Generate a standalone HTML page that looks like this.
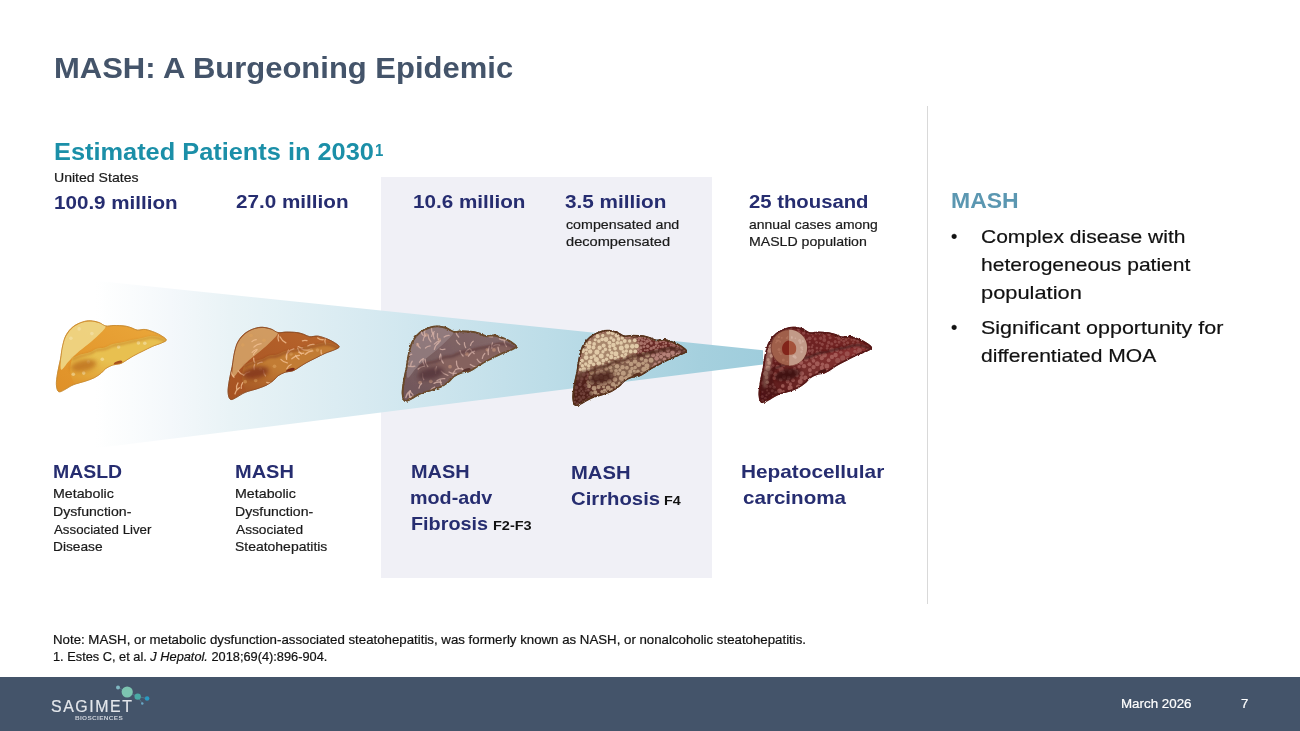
<!DOCTYPE html>
<html><head><meta charset="utf-8">
<style>
html,body{margin:0;padding:0;}
body{width:1300px;height:731px;overflow:hidden;background:#fff;position:relative;font-family:"Liberation Sans",sans-serif;}
.t{position:absolute;white-space:nowrap;transform-origin:0 0;line-height:1;}
.r{-webkit-text-stroke:0.2px currentColor;}
#box{position:absolute;left:381px;top:176.8px;width:330.5px;height:401.5px;background:#f0f0f6;}
#vline{position:absolute;left:926.5px;top:105.6px;width:1.5px;height:498.5px;background:#d9d9d9;}
#footer{position:absolute;left:0;top:677px;width:1300px;height:54px;background:#44546a;}
.dot{position:absolute;width:5px;height:5px;border-radius:50%;background:#111;}
</style></head><body>
<div id="box"></div>
<div id="vline"></div>
<div id="footer"></div>
<svg id="art" style="position:absolute;left:0;top:0" width="1300" height="731" viewBox="0 0 1300 731">
<defs>
<linearGradient id="beam" gradientUnits="userSpaceOnUse" x1="91" x2="763" y1="0" y2="0">
<stop offset="0" stop-color="#ffffff" stop-opacity="0"/>
<stop offset="0.025" stop-color="#fdfefe"/>
<stop offset="0.06" stop-color="#fafcfd"/>
<stop offset="0.1175" stop-color="#f4f8fb"/>
<stop offset="0.207" stop-color="#e9f3f6"/>
<stop offset="0.408" stop-color="#d7eaf1"/>
<stop offset="0.676" stop-color="#bddde8"/>
<stop offset="0.906" stop-color="#a5d0de"/>
<stop offset="1" stop-color="#9fcddc"/>
</linearGradient>
</defs>
<polygon points="91,280.3 763,350.3 763,364.6 91,448.8" fill="url(#beam)"/>
<filter id="b0" x="-20%" y="-20%" width="140%" height="140%"><feGaussianBlur stdDeviation="0.6"/></filter>
<filter id="b1" x="-20%" y="-20%" width="140%" height="140%"><feGaussianBlur stdDeviation="1.2"/></filter>
<filter id="b2" x="-30%" y="-30%" width="160%" height="160%"><feGaussianBlur stdDeviation="2"/></filter>
<filter id="rough" x="-5%" y="-5%" width="110%" height="110%"><feTurbulence type="fractalNoise" baseFrequency="0.35" numOctaves="2" seed="3" result="n"/><feDisplacementMap in="SourceGraphic" in2="n" scale="2.4" xChannelSelector="R" yChannelSelector="G"/></filter>
<g transform="translate(56.4,320.8) scale(1.0001,0.9996)">
<clipPath id="lc1"><path d="M2.3,70.9C0.9,70.2 0.2,67.1 0.0,64.0C-0.2,60.9 0.5,56.6 1.2,52.3C1.8,48.1 3.2,43.0 4.1,38.4C4.9,33.7 5.4,28.5 6.4,24.4C7.4,20.3 8.1,17.1 9.9,14.0C11.6,10.9 14.1,7.9 16.9,5.8C19.6,3.7 23.3,2.1 26.2,1.2C29.1,0.2 31.6,-0.1 34.3,0.0C37.0,0.1 39.9,0.9 42.4,1.7C45.0,2.6 46.9,4.7 49.4,5.2C51.9,5.7 54.5,4.7 57.6,4.7C60.7,4.7 65.1,4.8 68.0,5.2C70.9,5.6 72.9,6.3 75.0,7.0C77.1,7.7 78.5,9.0 80.8,9.3C83.1,9.6 86.0,8.3 89.0,8.7C91.9,9.1 95.5,10.6 98.3,11.6C101.0,12.7 103.3,13.9 105.2,15.1C107.2,16.4 109.9,18.0 109.9,19.2C109.9,20.3 107.6,21.0 105.2,22.1C102.9,23.2 99.0,24.2 95.9,25.6C92.8,26.9 89.7,28.7 86.6,30.2C83.5,31.8 80.4,33.1 77.3,34.9C74.2,36.6 70.3,39.3 68.0,40.7C65.7,42.1 65.3,42.4 63.4,43.0C61.4,43.6 58.7,43.4 56.4,44.2C54.1,45.0 51.4,46.3 49.4,47.7C47.5,49.0 46.7,50.8 44.8,52.3C42.8,53.9 40.5,55.6 37.8,57.0C35.1,58.3 32.0,59.3 28.5,60.5C25.0,61.6 20.2,62.6 16.9,64.0C13.6,65.3 11.1,67.4 8.7,68.6C6.3,69.8 3.8,71.7 2.3,70.9Z"/></clipPath>
<linearGradient id="lg1" x1="0" y1="1" x2="1" y2="0"><stop offset="0" stop-color="#df9028"/><stop offset="1" stop-color="#eba83a"/></linearGradient>
<linearGradient id="lw1" x1="0.15" y1="1" x2="0.75" y2="0"><stop offset="0" stop-color="#e09a30"/><stop offset="0.45" stop-color="#e8c050"/><stop offset="1" stop-color="#e8c050"/></linearGradient>
<path d="M2.3,70.9C0.9,70.2 0.2,67.1 0.0,64.0C-0.2,60.9 0.5,56.6 1.2,52.3C1.8,48.1 3.2,43.0 4.1,38.4C4.9,33.7 5.4,28.5 6.4,24.4C7.4,20.3 8.1,17.1 9.9,14.0C11.6,10.9 14.1,7.9 16.9,5.8C19.6,3.7 23.3,2.1 26.2,1.2C29.1,0.2 31.6,-0.1 34.3,0.0C37.0,0.1 39.9,0.9 42.4,1.7C45.0,2.6 46.9,4.7 49.4,5.2C51.9,5.7 54.5,4.7 57.6,4.7C60.7,4.7 65.1,4.8 68.0,5.2C70.9,5.6 72.9,6.3 75.0,7.0C77.1,7.7 78.5,9.0 80.8,9.3C83.1,9.6 86.0,8.3 89.0,8.7C91.9,9.1 95.5,10.6 98.3,11.6C101.0,12.7 103.3,13.9 105.2,15.1C107.2,16.4 109.9,18.0 109.9,19.2C109.9,20.3 107.6,21.0 105.2,22.1C102.9,23.2 99.0,24.2 95.9,25.6C92.8,26.9 89.7,28.7 86.6,30.2C83.5,31.8 80.4,33.1 77.3,34.9C74.2,36.6 70.3,39.3 68.0,40.7C65.7,42.1 65.3,42.4 63.4,43.0C61.4,43.6 58.7,43.4 56.4,44.2C54.1,45.0 51.4,46.3 49.4,47.7C47.5,49.0 46.7,50.8 44.8,52.3C42.8,53.9 40.5,55.6 37.8,57.0C35.1,58.3 32.0,59.3 28.5,60.5C25.0,61.6 20.2,62.6 16.9,64.0C13.6,65.3 11.1,67.4 8.7,68.6C6.3,69.8 3.8,71.7 2.3,70.9Z" fill="url(#lg1)" stroke="#c98a2e" stroke-width="0.8" stroke-linejoin="round"/>
<g clip-path="url(#lc1)">
<path d="M15.7,37.2C17.1,36.6 20.9,34.7 23.8,33.7C26.7,32.8 30.4,32.4 33.1,31.4C35.9,30.4 37.6,28.7 40.1,27.9C42.6,27.1 45.5,27.5 48.3,26.7C51.0,26.0 53.5,24.1 56.4,23.3C59.3,22.4 62.6,22.2 65.7,21.5C68.8,20.8 71.9,19.9 75.0,19.2C78.1,18.5 81.2,18.1 84.3,17.4C87.4,16.8 90.7,15.4 93.6,15.1C96.5,14.8 99.0,15.0 101.7,15.7C104.5,16.4 108.5,18.6 109.9,19.2L105.2,22.1C103.7,22.7 99.0,24.2 95.9,25.6C92.8,26.9 89.7,28.7 86.6,30.2C83.5,31.8 80.4,33.1 77.3,34.9C74.2,36.6 70.3,39.3 68.0,40.7C65.7,42.1 65.3,42.4 63.4,43.0C61.4,43.6 58.7,43.4 56.4,44.2C54.1,45.0 51.4,46.3 49.4,47.7C47.5,49.0 46.7,50.8 44.8,52.3C42.8,53.9 40.5,55.6 37.8,57.0C35.1,58.3 31.6,59.5 28.5,60.5C25.4,61.4 21.5,63.8 19.2,62.8C16.9,61.8 15.4,57.6 14.5,54.7C13.7,51.7 14.1,46.9 14.0,45.3Z" fill="url(#lw1)"/>
<path d="M4.7,48.8C3.5,47.5 4.7,37.5 5.2,32.6C5.8,27.6 7.0,22.7 8.1,19.2C9.3,15.7 10.6,13.9 12.2,11.6C13.9,9.4 15.7,7.5 18.0,5.8C20.3,4.2 23.4,2.6 26.2,1.7C28.9,0.9 31.6,0.5 34.3,0.6C37.0,0.6 40.0,1.3 42.4,2.1C44.9,2.9 49.2,3.6 49.2,5.6C49.2,7.6 45.3,11.0 42.4,14.0C39.6,16.9 35.7,20.2 32.0,23.3C28.3,26.4 23.6,29.7 20.3,32.6C17.1,35.5 14.8,38.0 12.2,40.7C9.6,43.4 5.8,50.2 4.7,48.8Z" fill="#efd888" opacity="0.9" filter="url(#b0)"/>
<circle cx="62.2" cy="26.2" r="1.8" fill="#f5e2ae" opacity="0.6"/>
<circle cx="82.0" cy="22.1" r="1.8" fill="#f5e2ae" opacity="0.6"/>
<circle cx="45.9" cy="38.4" r="1.8" fill="#f5e2ae" opacity="0.6"/>
<circle cx="32.0" cy="41.3" r="1.8" fill="#f5e2ae" opacity="0.6"/>
<circle cx="16.9" cy="53.5" r="1.8" fill="#f5e2ae" opacity="0.6"/>
<circle cx="27.3" cy="52.3" r="1.8" fill="#f5e2ae" opacity="0.6"/>
<circle cx="88.4" cy="22.4" r="1.8" fill="#f5e2ae" opacity="0.6"/>
<circle cx="22.7" cy="8.1" r="1.8" fill="#f5e2ae" opacity="0.6"/>
<circle cx="14.5" cy="17.4" r="1.8" fill="#f5e2ae" opacity="0.6"/>
<circle cx="35.5" cy="12.8" r="1.8" fill="#f5e2ae" opacity="0.6"/>
<ellipse cx="27.3" cy="44.8" rx="13" ry="5.5" fill="#bf7420" opacity="0.85" filter="url(#b2)" transform="rotate(-12 27.3 44.8)"/>
<path d="M15.7,37.2C17.1,36.6 20.9,34.7 23.8,33.7C26.7,32.8 30.4,32.4 33.1,31.4C35.9,30.4 37.6,28.7 40.1,27.9C42.6,27.1 45.5,27.5 48.3,26.7C51.0,26.0 53.5,24.1 56.4,23.3C59.3,22.4 62.6,22.2 65.7,21.5C68.8,20.8 71.9,19.9 75.0,19.2C78.1,18.5 81.2,18.1 84.3,17.4C87.4,16.8 90.7,15.4 93.6,15.1C96.5,14.8 99.0,15.0 101.7,15.7C104.5,16.4 108.5,18.6 109.9,19.2" fill="none" stroke="#bf7420" stroke-width="2.2" opacity="0.55" filter="url(#b1)" transform="translate(0,1.6)"/>
<ellipse cx="61.6" cy="42.1" rx="4.5" ry="1.8" fill="#a8501c" transform="rotate(-20 61.6 42.1)"/>
</g>
<path d="M2.3,70.9C0.9,70.2 0.2,67.1 0.0,64.0C-0.2,60.9 0.5,56.6 1.2,52.3C1.8,48.1 3.2,43.0 4.1,38.4C4.9,33.7 5.4,28.5 6.4,24.4C7.4,20.3 8.1,17.1 9.9,14.0C11.6,10.9 14.1,7.9 16.9,5.8C19.6,3.7 23.3,2.1 26.2,1.2C29.1,0.2 31.6,-0.1 34.3,0.0C37.0,0.1 39.9,0.9 42.4,1.7C45.0,2.6 46.9,4.7 49.4,5.2C51.9,5.7 54.5,4.7 57.6,4.7C60.7,4.7 65.1,4.8 68.0,5.2C70.9,5.6 72.9,6.3 75.0,7.0C77.1,7.7 78.5,9.0 80.8,9.3C83.1,9.6 86.0,8.3 89.0,8.7C91.9,9.1 95.5,10.6 98.3,11.6C101.0,12.7 103.3,13.9 105.2,15.1C107.2,16.4 109.9,18.0 109.9,19.2C109.9,20.3 107.6,21.0 105.2,22.1C102.9,23.2 99.0,24.2 95.9,25.6C92.8,26.9 89.7,28.7 86.6,30.2C83.5,31.8 80.4,33.1 77.3,34.9C74.2,36.6 70.3,39.3 68.0,40.7C65.7,42.1 65.3,42.4 63.4,43.0C61.4,43.6 58.7,43.4 56.4,44.2C54.1,45.0 51.4,46.3 49.4,47.7C47.5,49.0 46.7,50.8 44.8,52.3C42.8,53.9 40.5,55.6 37.8,57.0C35.1,58.3 32.0,59.3 28.5,60.5C25.0,61.6 20.2,62.6 16.9,64.0C13.6,65.3 11.1,67.4 8.7,68.6C6.3,69.8 3.8,71.7 2.3,70.9Z" fill="none" stroke="#c98a2e" stroke-width="0.6400000000000001" stroke-linejoin="round" opacity="0.9"/>
</g>
<g transform="translate(228.1,327.3) scale(1.0111,1.0165)">
<clipPath id="lc2"><path d="M2.3,70.9C0.9,70.2 0.2,67.1 0.0,64.0C-0.2,60.9 0.5,56.6 1.2,52.3C1.8,48.1 3.2,43.0 4.1,38.4C4.9,33.7 5.4,28.5 6.4,24.4C7.4,20.3 8.1,17.1 9.9,14.0C11.6,10.9 14.1,7.9 16.9,5.8C19.6,3.7 23.3,2.1 26.2,1.2C29.1,0.2 31.6,-0.1 34.3,0.0C37.0,0.1 39.9,0.9 42.4,1.7C45.0,2.6 46.9,4.7 49.4,5.2C51.9,5.7 54.5,4.7 57.6,4.7C60.7,4.7 65.1,4.8 68.0,5.2C70.9,5.6 72.9,6.3 75.0,7.0C77.1,7.7 78.5,9.0 80.8,9.3C83.1,9.6 86.0,8.3 89.0,8.7C91.9,9.1 95.5,10.6 98.3,11.6C101.0,12.7 103.3,13.9 105.2,15.1C107.2,16.4 109.9,18.0 109.9,19.2C109.9,20.3 107.6,21.0 105.2,22.1C102.9,23.2 99.0,24.2 95.9,25.6C92.8,26.9 89.7,28.7 86.6,30.2C83.5,31.8 80.4,33.1 77.3,34.9C74.2,36.6 70.3,39.3 68.0,40.7C65.7,42.1 65.3,42.4 63.4,43.0C61.4,43.6 58.7,43.4 56.4,44.2C54.1,45.0 51.4,46.3 49.4,47.7C47.5,49.0 46.7,50.8 44.8,52.3C42.8,53.9 40.5,55.6 37.8,57.0C35.1,58.3 32.0,59.3 28.5,60.5C25.0,61.6 20.2,62.6 16.9,64.0C13.6,65.3 11.1,67.4 8.7,68.6C6.3,69.8 3.8,71.7 2.3,70.9Z"/></clipPath>
<linearGradient id="lg2" x1="0" y1="1" x2="1" y2="0"><stop offset="0" stop-color="#a65222"/><stop offset="1" stop-color="#b9662c"/></linearGradient>
<linearGradient id="lw2" x1="0.15" y1="1" x2="0.75" y2="0"><stop offset="0" stop-color="#a85a26"/><stop offset="0.45" stop-color="#c27c34"/><stop offset="1" stop-color="#c27c34"/></linearGradient>
<path d="M2.3,70.9C0.9,70.2 0.2,67.1 0.0,64.0C-0.2,60.9 0.5,56.6 1.2,52.3C1.8,48.1 3.2,43.0 4.1,38.4C4.9,33.7 5.4,28.5 6.4,24.4C7.4,20.3 8.1,17.1 9.9,14.0C11.6,10.9 14.1,7.9 16.9,5.8C19.6,3.7 23.3,2.1 26.2,1.2C29.1,0.2 31.6,-0.1 34.3,0.0C37.0,0.1 39.9,0.9 42.4,1.7C45.0,2.6 46.9,4.7 49.4,5.2C51.9,5.7 54.5,4.7 57.6,4.7C60.7,4.7 65.1,4.8 68.0,5.2C70.9,5.6 72.9,6.3 75.0,7.0C77.1,7.7 78.5,9.0 80.8,9.3C83.1,9.6 86.0,8.3 89.0,8.7C91.9,9.1 95.5,10.6 98.3,11.6C101.0,12.7 103.3,13.9 105.2,15.1C107.2,16.4 109.9,18.0 109.9,19.2C109.9,20.3 107.6,21.0 105.2,22.1C102.9,23.2 99.0,24.2 95.9,25.6C92.8,26.9 89.7,28.7 86.6,30.2C83.5,31.8 80.4,33.1 77.3,34.9C74.2,36.6 70.3,39.3 68.0,40.7C65.7,42.1 65.3,42.4 63.4,43.0C61.4,43.6 58.7,43.4 56.4,44.2C54.1,45.0 51.4,46.3 49.4,47.7C47.5,49.0 46.7,50.8 44.8,52.3C42.8,53.9 40.5,55.6 37.8,57.0C35.1,58.3 32.0,59.3 28.5,60.5C25.0,61.6 20.2,62.6 16.9,64.0C13.6,65.3 11.1,67.4 8.7,68.6C6.3,69.8 3.8,71.7 2.3,70.9Z" fill="url(#lg2)" stroke="#8c4a20" stroke-width="0.8" stroke-linejoin="round"/>
<g clip-path="url(#lc2)">
<path d="M15.7,37.2C17.1,36.6 20.9,34.7 23.8,33.7C26.7,32.8 30.4,32.4 33.1,31.4C35.9,30.4 37.6,28.7 40.1,27.9C42.6,27.1 45.5,27.5 48.3,26.7C51.0,26.0 53.5,24.1 56.4,23.3C59.3,22.4 62.6,22.2 65.7,21.5C68.8,20.8 71.9,19.9 75.0,19.2C78.1,18.5 81.2,18.1 84.3,17.4C87.4,16.8 90.7,15.4 93.6,15.1C96.5,14.8 99.0,15.0 101.7,15.7C104.5,16.4 108.5,18.6 109.9,19.2L105.2,22.1C103.7,22.7 99.0,24.2 95.9,25.6C92.8,26.9 89.7,28.7 86.6,30.2C83.5,31.8 80.4,33.1 77.3,34.9C74.2,36.6 70.3,39.3 68.0,40.7C65.7,42.1 65.3,42.4 63.4,43.0C61.4,43.6 58.7,43.4 56.4,44.2C54.1,45.0 51.4,46.3 49.4,47.7C47.5,49.0 46.7,50.8 44.8,52.3C42.8,53.9 40.5,55.6 37.8,57.0C35.1,58.3 31.6,59.5 28.5,60.5C25.4,61.4 21.5,63.8 19.2,62.8C16.9,61.8 15.4,57.6 14.5,54.7C13.7,51.7 14.1,46.9 14.0,45.3Z" fill="url(#lw2)"/>
<path d="M4.7,48.8C3.5,47.5 4.7,37.5 5.2,32.6C5.8,27.6 7.0,22.7 8.1,19.2C9.3,15.7 10.6,13.9 12.2,11.6C13.9,9.4 15.7,7.5 18.0,5.8C20.3,4.2 23.4,2.6 26.2,1.7C28.9,0.9 31.6,0.5 34.3,0.6C37.0,0.6 40.0,1.3 42.4,2.1C44.9,2.9 49.2,3.6 49.2,5.6C49.2,7.6 45.3,11.0 42.4,14.0C39.6,16.9 35.7,20.2 32.0,23.3C28.3,26.4 23.6,29.7 20.3,32.6C17.1,35.5 14.8,38.0 12.2,40.7C9.6,43.4 5.8,50.2 4.7,48.8Z" fill="#d9aa70" opacity="0.8" filter="url(#b0)"/>
<circle cx="62.2" cy="26.2" r="1.8" fill="#dca25e" opacity="0.6"/>
<circle cx="82.0" cy="22.1" r="1.8" fill="#dca25e" opacity="0.6"/>
<circle cx="45.9" cy="38.4" r="1.8" fill="#dca25e" opacity="0.6"/>
<circle cx="32.0" cy="41.3" r="1.8" fill="#dca25e" opacity="0.6"/>
<circle cx="16.9" cy="53.5" r="1.8" fill="#dca25e" opacity="0.6"/>
<circle cx="27.3" cy="52.3" r="1.8" fill="#dca25e" opacity="0.6"/>
<circle cx="88.4" cy="22.4" r="1.8" fill="#dca25e" opacity="0.6"/>
<circle cx="22.7" cy="8.1" r="1.8" fill="#dca25e" opacity="0.6"/>
<circle cx="14.5" cy="17.4" r="1.8" fill="#dca25e" opacity="0.6"/>
<circle cx="35.5" cy="12.8" r="1.8" fill="#dca25e" opacity="0.6"/>
<path d="M78.0,13.2Q75.7,12.4 73.5,13.4" stroke="#f3c094" stroke-width="1.25" fill="none" stroke-linecap="round" opacity="0.8"/>
<path d="M28.4,22.8Q25.8,24.3 25.0,27.1" stroke="#f3c094" stroke-width="1.25" fill="none" stroke-linecap="round" opacity="0.8"/>
<path d="M32.6,16.1Q28.4,16.4 25.5,19.5" stroke="#f3c094" stroke-width="1.25" fill="none" stroke-linecap="round" opacity="0.8"/>
<path d="M85.0,16.8Q81.6,16.3 78.7,18.3" stroke="#f3c094" stroke-width="1.25" fill="none" stroke-linecap="round" opacity="0.8"/>
<path d="M25.3,30.3Q25.0,32.8 26.5,34.9" stroke="#f3c094" stroke-width="1.25" fill="none" stroke-linecap="round" opacity="0.8"/>
<path d="M59.7,22.4Q57.3,26.0 58.0,30.3" stroke="#f3c094" stroke-width="1.25" fill="none" stroke-linecap="round" opacity="0.8"/>
<path d="M70.6,27.6Q66.1,27.8 63.0,31.0" stroke="#f3c094" stroke-width="1.25" fill="none" stroke-linecap="round" opacity="0.8"/>
<path d="M33.6,34.3Q31.0,34.2 29.1,36.0" stroke="#f3c094" stroke-width="1.25" fill="none" stroke-linecap="round" opacity="0.8"/>
<path d="M57.9,26.5Q56.9,29.1 57.9,31.6" stroke="#f3c094" stroke-width="1.25" fill="none" stroke-linecap="round" opacity="0.8"/>
<path d="M28.7,21.7Q25.7,22.2 23.8,24.7" stroke="#f3c094" stroke-width="1.25" fill="none" stroke-linecap="round" opacity="0.8"/>
<path d="M92.0,22.5Q91.5,25.0 92.9,27.1" stroke="#f3c094" stroke-width="1.25" fill="none" stroke-linecap="round" opacity="0.8"/>
<path d="M49.8,7.5Q48.7,10.5 50.0,13.4" stroke="#f3c094" stroke-width="1.25" fill="none" stroke-linecap="round" opacity="0.8"/>
<path d="M72.3,21.1Q76.1,23.2 80.2,22.2" stroke="#f3c094" stroke-width="1.25" fill="none" stroke-linecap="round" opacity="0.8"/>
<path d="M96.4,10.1Q95.1,13.3 96.4,16.4" stroke="#f3c094" stroke-width="1.25" fill="none" stroke-linecap="round" opacity="0.8"/>
<path d="M9.8,54.7Q7.9,57.5 8.4,60.8" stroke="#f3c094" stroke-width="1.25" fill="none" stroke-linecap="round" opacity="0.8"/>
<path d="M69.3,19.0Q71.2,20.5 73.6,20.2" stroke="#f3c094" stroke-width="1.25" fill="none" stroke-linecap="round" opacity="0.8"/>
<path d="M34.9,42.4Q34.9,45.5 37.0,47.8" stroke="#f3c094" stroke-width="1.25" fill="none" stroke-linecap="round" opacity="0.8"/>
<path d="M65.1,21.2Q61.1,22.0 58.7,25.3" stroke="#f3c094" stroke-width="1.25" fill="none" stroke-linecap="round" opacity="0.8"/>
<path d="M3.1,43.8Q3.4,47.0 5.9,49.1" stroke="#f3c094" stroke-width="1.25" fill="none" stroke-linecap="round" opacity="0.8"/>
<path d="M51.3,9.4Q53.1,13.5 57.2,15.3" stroke="#f3c094" stroke-width="1.25" fill="none" stroke-linecap="round" opacity="0.8"/>
<path d="M68.8,20.6Q69.5,24.2 72.5,26.3" stroke="#f3c094" stroke-width="1.25" fill="none" stroke-linecap="round" opacity="0.8"/>
<path d="M69.9,24.6Q72.2,26.1 74.9,25.5" stroke="#f3c094" stroke-width="1.25" fill="none" stroke-linecap="round" opacity="0.8"/>
<path d="M14.4,54.4Q12.6,57.0 13.0,60.0" stroke="#f3c094" stroke-width="1.25" fill="none" stroke-linecap="round" opacity="0.8"/>
<path d="M88.6,10.5Q91.0,12.5 94.1,12.2" stroke="#f3c094" stroke-width="1.25" fill="none" stroke-linecap="round" opacity="0.8"/>
<path d="M38.2,54.1Q41.9,55.7 45.7,54.2" stroke="#f3c094" stroke-width="1.25" fill="none" stroke-linecap="round" opacity="0.8"/>
<path d="M21.4,43.9Q17.7,44.3 15.3,47.3" stroke="#f3c094" stroke-width="1.25" fill="none" stroke-linecap="round" opacity="0.8"/>
<path d="M62.3,36.6Q59.4,37.9 58.1,40.8" stroke="#f3c094" stroke-width="1.25" fill="none" stroke-linecap="round" opacity="0.8"/>
<path d="M26.2,36.7Q25.1,39.1 25.9,41.6" stroke="#f3c094" stroke-width="1.25" fill="none" stroke-linecap="round" opacity="0.8"/>
<path d="M52.2,31.6Q54.7,34.6 58.6,35.0" stroke="#f3c094" stroke-width="1.25" fill="none" stroke-linecap="round" opacity="0.8"/>
<path d="M83.8,23.3Q79.3,23.5 76.2,26.7" stroke="#f3c094" stroke-width="1.25" fill="none" stroke-linecap="round" opacity="0.8"/>
<path d="M66.9,27.6Q67.7,30.1 70.1,31.3" stroke="#f3c094" stroke-width="1.25" fill="none" stroke-linecap="round" opacity="0.8"/>
<path d="M11.2,59.4Q7.7,61.6 6.8,65.6" stroke="#f3c094" stroke-width="1.25" fill="none" stroke-linecap="round" opacity="0.8"/>
<path d="M10.0,42.8Q12.0,46.1 15.7,47.1" stroke="#f3c094" stroke-width="1.25" fill="none" stroke-linecap="round" opacity="0.8"/>
<path d="M27.8,12.2Q25.3,12.4 23.6,14.1" stroke="#f3c094" stroke-width="1.25" fill="none" stroke-linecap="round" opacity="0.8"/>
<ellipse cx="27.3" cy="44.8" rx="13" ry="5.5" fill="#82341a" opacity="0.85" filter="url(#b2)" transform="rotate(-12 27.3 44.8)"/>
<path d="M15.7,37.2C17.1,36.6 20.9,34.7 23.8,33.7C26.7,32.8 30.4,32.4 33.1,31.4C35.9,30.4 37.6,28.7 40.1,27.9C42.6,27.1 45.5,27.5 48.3,26.7C51.0,26.0 53.5,24.1 56.4,23.3C59.3,22.4 62.6,22.2 65.7,21.5C68.8,20.8 71.9,19.9 75.0,19.2C78.1,18.5 81.2,18.1 84.3,17.4C87.4,16.8 90.7,15.4 93.6,15.1C96.5,14.8 99.0,15.0 101.7,15.7C104.5,16.4 108.5,18.6 109.9,19.2" fill="none" stroke="#82341a" stroke-width="2.2" opacity="0.55" filter="url(#b1)" transform="translate(0,1.6)"/>
<ellipse cx="61.6" cy="42.1" rx="4.5" ry="1.8" fill="#7a2a16" transform="rotate(-20 61.6 42.1)"/>
</g>
<path d="M2.3,70.9C0.9,70.2 0.2,67.1 0.0,64.0C-0.2,60.9 0.5,56.6 1.2,52.3C1.8,48.1 3.2,43.0 4.1,38.4C4.9,33.7 5.4,28.5 6.4,24.4C7.4,20.3 8.1,17.1 9.9,14.0C11.6,10.9 14.1,7.9 16.9,5.8C19.6,3.7 23.3,2.1 26.2,1.2C29.1,0.2 31.6,-0.1 34.3,0.0C37.0,0.1 39.9,0.9 42.4,1.7C45.0,2.6 46.9,4.7 49.4,5.2C51.9,5.7 54.5,4.7 57.6,4.7C60.7,4.7 65.1,4.8 68.0,5.2C70.9,5.6 72.9,6.3 75.0,7.0C77.1,7.7 78.5,9.0 80.8,9.3C83.1,9.6 86.0,8.3 89.0,8.7C91.9,9.1 95.5,10.6 98.3,11.6C101.0,12.7 103.3,13.9 105.2,15.1C107.2,16.4 109.9,18.0 109.9,19.2C109.9,20.3 107.6,21.0 105.2,22.1C102.9,23.2 99.0,24.2 95.9,25.6C92.8,26.9 89.7,28.7 86.6,30.2C83.5,31.8 80.4,33.1 77.3,34.9C74.2,36.6 70.3,39.3 68.0,40.7C65.7,42.1 65.3,42.4 63.4,43.0C61.4,43.6 58.7,43.4 56.4,44.2C54.1,45.0 51.4,46.3 49.4,47.7C47.5,49.0 46.7,50.8 44.8,52.3C42.8,53.9 40.5,55.6 37.8,57.0C35.1,58.3 32.0,59.3 28.5,60.5C25.0,61.6 20.2,62.6 16.9,64.0C13.6,65.3 11.1,67.4 8.7,68.6C6.3,69.8 3.8,71.7 2.3,70.9Z" fill="none" stroke="#8c4a20" stroke-width="0.6400000000000001" stroke-linejoin="round" opacity="0.9"/>
</g>
<g transform="translate(402.6,326.4) scale(1.0338,1.0503)">
<clipPath id="lc3"><path d="M2.3,70.9C0.9,70.2 0.2,67.1 0.0,64.0C-0.2,60.9 0.5,56.6 1.2,52.3C1.8,48.1 3.2,43.0 4.1,38.4C4.9,33.7 5.4,28.5 6.4,24.4C7.4,20.3 8.1,17.1 9.9,14.0C11.6,10.9 14.1,7.9 16.9,5.8C19.6,3.7 23.3,2.1 26.2,1.2C29.1,0.2 31.6,-0.1 34.3,0.0C37.0,0.1 39.9,0.9 42.4,1.7C45.0,2.6 46.9,4.7 49.4,5.2C51.9,5.7 54.5,4.7 57.6,4.7C60.7,4.7 65.1,4.8 68.0,5.2C70.9,5.6 72.9,6.3 75.0,7.0C77.1,7.7 78.5,9.0 80.8,9.3C83.1,9.6 86.0,8.3 89.0,8.7C91.9,9.1 95.5,10.6 98.3,11.6C101.0,12.7 103.3,13.9 105.2,15.1C107.2,16.4 109.9,18.0 109.9,19.2C109.9,20.3 107.6,21.0 105.2,22.1C102.9,23.2 99.0,24.2 95.9,25.6C92.8,26.9 89.7,28.7 86.6,30.2C83.5,31.8 80.4,33.1 77.3,34.9C74.2,36.6 70.3,39.3 68.0,40.7C65.7,42.1 65.3,42.4 63.4,43.0C61.4,43.6 58.7,43.4 56.4,44.2C54.1,45.0 51.4,46.3 49.4,47.7C47.5,49.0 46.7,50.8 44.8,52.3C42.8,53.9 40.5,55.6 37.8,57.0C35.1,58.3 32.0,59.3 28.5,60.5C25.0,61.6 20.2,62.6 16.9,64.0C13.6,65.3 11.1,67.4 8.7,68.6C6.3,69.8 3.8,71.7 2.3,70.9Z"/></clipPath>
<linearGradient id="lg3" x1="0" y1="1" x2="1" y2="0"><stop offset="0" stop-color="#70565a"/><stop offset="1" stop-color="#866a6a"/></linearGradient>
<linearGradient id="lw3" x1="0.15" y1="1" x2="0.75" y2="0"><stop offset="0" stop-color="#70565a"/><stop offset="0.45" stop-color="#85625e"/><stop offset="1" stop-color="#85625e"/></linearGradient>
<path d="M2.3,70.9C0.9,70.2 0.2,67.1 0.0,64.0C-0.2,60.9 0.5,56.6 1.2,52.3C1.8,48.1 3.2,43.0 4.1,38.4C4.9,33.7 5.4,28.5 6.4,24.4C7.4,20.3 8.1,17.1 9.9,14.0C11.6,10.9 14.1,7.9 16.9,5.8C19.6,3.7 23.3,2.1 26.2,1.2C29.1,0.2 31.6,-0.1 34.3,0.0C37.0,0.1 39.9,0.9 42.4,1.7C45.0,2.6 46.9,4.7 49.4,5.2C51.9,5.7 54.5,4.7 57.6,4.7C60.7,4.7 65.1,4.8 68.0,5.2C70.9,5.6 72.9,6.3 75.0,7.0C77.1,7.7 78.5,9.0 80.8,9.3C83.1,9.6 86.0,8.3 89.0,8.7C91.9,9.1 95.5,10.6 98.3,11.6C101.0,12.7 103.3,13.9 105.2,15.1C107.2,16.4 109.9,18.0 109.9,19.2C109.9,20.3 107.6,21.0 105.2,22.1C102.9,23.2 99.0,24.2 95.9,25.6C92.8,26.9 89.7,28.7 86.6,30.2C83.5,31.8 80.4,33.1 77.3,34.9C74.2,36.6 70.3,39.3 68.0,40.7C65.7,42.1 65.3,42.4 63.4,43.0C61.4,43.6 58.7,43.4 56.4,44.2C54.1,45.0 51.4,46.3 49.4,47.7C47.5,49.0 46.7,50.8 44.8,52.3C42.8,53.9 40.5,55.6 37.8,57.0C35.1,58.3 32.0,59.3 28.5,60.5C25.0,61.6 20.2,62.6 16.9,64.0C13.6,65.3 11.1,67.4 8.7,68.6C6.3,69.8 3.8,71.7 2.3,70.9Z" fill="url(#lg3)" stroke="#6a4a2c" stroke-width="1.8" stroke-linejoin="round" filter="url(#rough)"/>
<g clip-path="url(#lc3)">
<path d="M15.7,37.2C17.1,36.6 20.9,34.7 23.8,33.7C26.7,32.8 30.4,32.4 33.1,31.4C35.9,30.4 37.6,28.7 40.1,27.9C42.6,27.1 45.5,27.5 48.3,26.7C51.0,26.0 53.5,24.1 56.4,23.3C59.3,22.4 62.6,22.2 65.7,21.5C68.8,20.8 71.9,19.9 75.0,19.2C78.1,18.5 81.2,18.1 84.3,17.4C87.4,16.8 90.7,15.4 93.6,15.1C96.5,14.8 99.0,15.0 101.7,15.7C104.5,16.4 108.5,18.6 109.9,19.2L105.2,22.1C103.7,22.7 99.0,24.2 95.9,25.6C92.8,26.9 89.7,28.7 86.6,30.2C83.5,31.8 80.4,33.1 77.3,34.9C74.2,36.6 70.3,39.3 68.0,40.7C65.7,42.1 65.3,42.4 63.4,43.0C61.4,43.6 58.7,43.4 56.4,44.2C54.1,45.0 51.4,46.3 49.4,47.7C47.5,49.0 46.7,50.8 44.8,52.3C42.8,53.9 40.5,55.6 37.8,57.0C35.1,58.3 31.6,59.5 28.5,60.5C25.4,61.4 21.5,63.8 19.2,62.8C16.9,61.8 15.4,57.6 14.5,54.7C13.7,51.7 14.1,46.9 14.0,45.3Z" fill="url(#lw3)"/>
<path d="M4.7,48.8C3.5,47.5 4.7,37.5 5.2,32.6C5.8,27.6 7.0,22.7 8.1,19.2C9.3,15.7 10.6,13.9 12.2,11.6C13.9,9.4 15.7,7.5 18.0,5.8C20.3,4.2 23.4,2.6 26.2,1.7C28.9,0.9 31.6,0.5 34.3,0.6C37.0,0.6 40.0,1.3 42.4,2.1C44.9,2.9 49.2,3.6 49.2,5.6C49.2,7.6 45.3,11.0 42.4,14.0C39.6,16.9 35.7,20.2 32.0,23.3C28.3,26.4 23.6,29.7 20.3,32.6C17.1,35.5 14.8,38.0 12.2,40.7C9.6,43.4 5.8,50.2 4.7,48.8Z" fill="#9c888a" opacity="0.65" filter="url(#b0)"/>
<circle cx="62.2" cy="26.2" r="1.8" fill="#c99a80" opacity="0.6"/>
<circle cx="82.0" cy="22.1" r="1.8" fill="#c99a80" opacity="0.6"/>
<circle cx="45.9" cy="38.4" r="1.8" fill="#c99a80" opacity="0.6"/>
<circle cx="32.0" cy="41.3" r="1.8" fill="#c99a80" opacity="0.6"/>
<circle cx="16.9" cy="53.5" r="1.8" fill="#c99a80" opacity="0.6"/>
<circle cx="27.3" cy="52.3" r="1.8" fill="#c99a80" opacity="0.6"/>
<circle cx="88.4" cy="22.4" r="1.8" fill="#c99a80" opacity="0.6"/>
<circle cx="22.7" cy="8.1" r="1.8" fill="#c99a80" opacity="0.6"/>
<circle cx="14.5" cy="17.4" r="1.8" fill="#c99a80" opacity="0.6"/>
<circle cx="35.5" cy="12.8" r="1.8" fill="#c99a80" opacity="0.6"/>
<path d="M93.6,11.8Q97.6,13.8 101.9,12.4" stroke="#d4b0a6" stroke-width="1.25" fill="none" stroke-linecap="round" opacity="0.8"/>
<path d="M22.5,8.3Q20.2,10.3 19.9,13.4" stroke="#d4b0a6" stroke-width="1.25" fill="none" stroke-linecap="round" opacity="0.8"/>
<path d="M93.8,17.7Q90.8,16.9 88.1,18.4" stroke="#d4b0a6" stroke-width="1.25" fill="none" stroke-linecap="round" opacity="0.8"/>
<path d="M36.7,13.8Q33.1,14.1 30.7,16.9" stroke="#d4b0a6" stroke-width="1.25" fill="none" stroke-linecap="round" opacity="0.8"/>
<path d="M37.4,53.2Q33.7,52.3 30.4,54.2" stroke="#d4b0a6" stroke-width="1.25" fill="none" stroke-linecap="round" opacity="0.8"/>
<path d="M18.4,54.4Q16.2,56.1 15.8,58.8" stroke="#d4b0a6" stroke-width="1.25" fill="none" stroke-linecap="round" opacity="0.8"/>
<path d="M3.8,37.1Q7.7,39.1 11.9,37.9" stroke="#d4b0a6" stroke-width="1.25" fill="none" stroke-linecap="round" opacity="0.8"/>
<path d="M52.1,33.2Q51.7,37.0 54.1,40.0" stroke="#d4b0a6" stroke-width="1.25" fill="none" stroke-linecap="round" opacity="0.8"/>
<path d="M92.3,19.8Q92.4,23.5 94.9,26.1" stroke="#d4b0a6" stroke-width="1.25" fill="none" stroke-linecap="round" opacity="0.8"/>
<path d="M32.8,38.6Q31.2,41.5 32.0,44.7" stroke="#d4b0a6" stroke-width="1.25" fill="none" stroke-linecap="round" opacity="0.8"/>
<path d="M65.5,36.2Q69.1,38.9 73.6,38.4" stroke="#d4b0a6" stroke-width="1.25" fill="none" stroke-linecap="round" opacity="0.8"/>
<path d="M37.0,27.2Q36.6,31.5 39.4,34.9" stroke="#d4b0a6" stroke-width="1.25" fill="none" stroke-linecap="round" opacity="0.8"/>
<path d="M45.0,8.5Q42.3,8.3 40.2,10.1" stroke="#d4b0a6" stroke-width="1.25" fill="none" stroke-linecap="round" opacity="0.8"/>
<path d="M55.6,23.2Q56.1,26.3 58.5,28.2" stroke="#d4b0a6" stroke-width="1.25" fill="none" stroke-linecap="round" opacity="0.8"/>
<path d="M22.3,1.6Q20.4,5.2 21.5,9.2" stroke="#d4b0a6" stroke-width="1.25" fill="none" stroke-linecap="round" opacity="0.8"/>
<path d="M68.3,14.2Q66.2,15.6 65.7,18.0" stroke="#d4b0a6" stroke-width="1.25" fill="none" stroke-linecap="round" opacity="0.8"/>
<path d="M58.5,40.9Q54.8,39.5 51.1,41.1" stroke="#d4b0a6" stroke-width="1.25" fill="none" stroke-linecap="round" opacity="0.8"/>
<path d="M69.6,23.6Q65.6,24.8 63.6,28.4" stroke="#d4b0a6" stroke-width="1.25" fill="none" stroke-linecap="round" opacity="0.8"/>
<path d="M6.0,32.8Q3.7,35.0 3.6,38.1" stroke="#d4b0a6" stroke-width="1.25" fill="none" stroke-linecap="round" opacity="0.8"/>
<path d="M19.4,45.3Q18.9,48.2 20.5,50.6" stroke="#d4b0a6" stroke-width="1.25" fill="none" stroke-linecap="round" opacity="0.8"/>
<path d="M6.0,63.6Q6.3,66.2 8.2,68.0" stroke="#d4b0a6" stroke-width="1.25" fill="none" stroke-linecap="round" opacity="0.8"/>
<path d="M26.7,18.5Q24.0,18.6 22.1,20.6" stroke="#d4b0a6" stroke-width="1.25" fill="none" stroke-linecap="round" opacity="0.8"/>
<path d="M30.1,6.7Q29.3,9.4 30.6,11.9" stroke="#d4b0a6" stroke-width="1.25" fill="none" stroke-linecap="round" opacity="0.8"/>
<path d="M40.8,49.8Q36.7,49.2 33.3,51.6" stroke="#d4b0a6" stroke-width="1.25" fill="none" stroke-linecap="round" opacity="0.8"/>
<path d="M8.8,26.5Q6.4,26.7 4.8,28.6" stroke="#d4b0a6" stroke-width="1.25" fill="none" stroke-linecap="round" opacity="0.8"/>
<path d="M21.8,31.4Q21.7,35.3 24.4,38.3" stroke="#d4b0a6" stroke-width="1.25" fill="none" stroke-linecap="round" opacity="0.8"/>
<path d="M72.1,31.3Q73.3,33.9 75.9,35.0" stroke="#d4b0a6" stroke-width="1.25" fill="none" stroke-linecap="round" opacity="0.8"/>
<path d="M30.6,5.1Q28.5,6.7 28.1,9.4" stroke="#d4b0a6" stroke-width="1.25" fill="none" stroke-linecap="round" opacity="0.8"/>
<path d="M9.3,33.2Q7.7,35.1 7.9,37.5" stroke="#d4b0a6" stroke-width="1.25" fill="none" stroke-linecap="round" opacity="0.8"/>
<path d="M87.0,15.7Q85.7,18.0 86.4,20.6" stroke="#d4b0a6" stroke-width="1.25" fill="none" stroke-linecap="round" opacity="0.8"/>
<path d="M37.3,42.6Q39.8,45.9 43.8,46.6" stroke="#d4b0a6" stroke-width="1.25" fill="none" stroke-linecap="round" opacity="0.8"/>
<path d="M52.1,13.3Q52.9,15.9 55.3,17.2" stroke="#d4b0a6" stroke-width="1.25" fill="none" stroke-linecap="round" opacity="0.8"/>
<path d="M98.1,11.6Q97.8,15.8 100.4,19.1" stroke="#d4b0a6" stroke-width="1.25" fill="none" stroke-linecap="round" opacity="0.8"/>
<path d="M79.5,25.8Q77.4,27.6 77.1,30.4" stroke="#d4b0a6" stroke-width="1.25" fill="none" stroke-linecap="round" opacity="0.8"/>
<path d="M18.0,3.8Q18.0,6.7 20.0,8.8" stroke="#d4b0a6" stroke-width="1.25" fill="none" stroke-linecap="round" opacity="0.8"/>
<path d="M21.2,37.8Q17.6,38.0 15.0,40.6" stroke="#d4b0a6" stroke-width="1.25" fill="none" stroke-linecap="round" opacity="0.8"/>
<path d="M7.3,61.4Q3.9,63.7 3.1,67.8" stroke="#d4b0a6" stroke-width="1.25" fill="none" stroke-linecap="round" opacity="0.8"/>
<path d="M82.1,8.9Q84.4,10.4 87.1,9.9" stroke="#d4b0a6" stroke-width="1.25" fill="none" stroke-linecap="round" opacity="0.8"/>
<path d="M65.8,21.8Q66.7,24.5 69.2,25.9" stroke="#d4b0a6" stroke-width="1.25" fill="none" stroke-linecap="round" opacity="0.8"/>
<path d="M7.3,61.3Q7.9,63.6 10.0,64.9" stroke="#d4b0a6" stroke-width="1.25" fill="none" stroke-linecap="round" opacity="0.8"/>
<path d="M33.8,6.9Q33.1,9.9 34.7,12.5" stroke="#d4b0a6" stroke-width="1.25" fill="none" stroke-linecap="round" opacity="0.8"/>
<path d="M19.6,31.2Q19.2,34.3 21.1,36.8" stroke="#d4b0a6" stroke-width="1.25" fill="none" stroke-linecap="round" opacity="0.8"/>
<path d="M83.9,19.0Q81.8,22.7 82.9,26.8" stroke="#d4b0a6" stroke-width="1.25" fill="none" stroke-linecap="round" opacity="0.8"/>
<path d="M7.1,62.1Q6.0,64.7 6.9,67.3" stroke="#d4b0a6" stroke-width="1.25" fill="none" stroke-linecap="round" opacity="0.8"/>
<path d="M14.3,16.5Q14.9,19.1 17.1,20.6" stroke="#d4b0a6" stroke-width="1.25" fill="none" stroke-linecap="round" opacity="0.8"/>
<path d="M9.9,66.3Q7.3,66.7 5.8,68.9" stroke="#d4b0a6" stroke-width="1.25" fill="none" stroke-linecap="round" opacity="0.8"/>
<path d="M51.5,4.9Q51.8,8.1 54.3,10.1" stroke="#d4b0a6" stroke-width="1.25" fill="none" stroke-linecap="round" opacity="0.8"/>
<path d="M44.9,43.4Q48.2,45.4 51.9,44.5" stroke="#d4b0a6" stroke-width="1.25" fill="none" stroke-linecap="round" opacity="0.8"/>
<path d="M36.3,21.5Q38.7,22.5 41.0,21.6" stroke="#d4b0a6" stroke-width="1.25" fill="none" stroke-linecap="round" opacity="0.8"/>
<path d="M20.3,30.7Q17.6,31.6 16.3,34.1" stroke="#d4b0a6" stroke-width="1.25" fill="none" stroke-linecap="round" opacity="0.8"/>
<path d="M50.6,42.2Q48.9,43.9 48.8,46.3" stroke="#d4b0a6" stroke-width="1.25" fill="none" stroke-linecap="round" opacity="0.8"/>
<path d="M35.3,15.2Q31.6,17.6 30.7,21.9" stroke="#d4b0a6" stroke-width="1.25" fill="none" stroke-linecap="round" opacity="0.8"/>
<path d="M36.8,26.3Q35.4,28.7 35.9,31.4" stroke="#d4b0a6" stroke-width="1.25" fill="none" stroke-linecap="round" opacity="0.8"/>
<path d="M31.0,57.7Q28.2,58.6 26.8,61.1" stroke="#d4b0a6" stroke-width="1.25" fill="none" stroke-linecap="round" opacity="0.8"/>
<path d="M57.2,39.8Q58.7,43.0 62.1,44.3" stroke="#d4b0a6" stroke-width="1.25" fill="none" stroke-linecap="round" opacity="0.8"/>
<path d="M36.4,51.0Q36.5,55.5 39.7,58.6" stroke="#d4b0a6" stroke-width="1.25" fill="none" stroke-linecap="round" opacity="0.8"/>
<path d="M59.8,15.4Q59.5,18.0 61.0,20.2" stroke="#d4b0a6" stroke-width="1.25" fill="none" stroke-linecap="round" opacity="0.8"/>
<path d="M64.7,21.4Q62.2,22.2 60.9,24.6" stroke="#d4b0a6" stroke-width="1.25" fill="none" stroke-linecap="round" opacity="0.8"/>
<path d="M24.7,8.2Q24.8,12.0 27.4,14.7" stroke="#d4b0a6" stroke-width="1.25" fill="none" stroke-linecap="round" opacity="0.8"/>
<path d="M28.1,-0.2Q27.3,3.9 29.5,7.3" stroke="#d4b0a6" stroke-width="1.25" fill="none" stroke-linecap="round" opacity="0.8"/>
<ellipse cx="27.3" cy="44.8" rx="13" ry="5.5" fill="#54343a" opacity="0.85" filter="url(#b2)" transform="rotate(-12 27.3 44.8)"/>
<path d="M15.7,37.2C17.1,36.6 20.9,34.7 23.8,33.7C26.7,32.8 30.4,32.4 33.1,31.4C35.9,30.4 37.6,28.7 40.1,27.9C42.6,27.1 45.5,27.5 48.3,26.7C51.0,26.0 53.5,24.1 56.4,23.3C59.3,22.4 62.6,22.2 65.7,21.5C68.8,20.8 71.9,19.9 75.0,19.2C78.1,18.5 81.2,18.1 84.3,17.4C87.4,16.8 90.7,15.4 93.6,15.1C96.5,14.8 99.0,15.0 101.7,15.7C104.5,16.4 108.5,18.6 109.9,19.2" fill="none" stroke="#54343a" stroke-width="2.2" opacity="0.7" filter="url(#b1)" transform="translate(0,1.6)"/>
<ellipse cx="61.6" cy="42.1" rx="4.5" ry="1.8" fill="#5a3430" transform="rotate(-20 61.6 42.1)"/>
</g>
<path d="M2.3,70.9C0.9,70.2 0.2,67.1 0.0,64.0C-0.2,60.9 0.5,56.6 1.2,52.3C1.8,48.1 3.2,43.0 4.1,38.4C4.9,33.7 5.4,28.5 6.4,24.4C7.4,20.3 8.1,17.1 9.9,14.0C11.6,10.9 14.1,7.9 16.9,5.8C19.6,3.7 23.3,2.1 26.2,1.2C29.1,0.2 31.6,-0.1 34.3,0.0C37.0,0.1 39.9,0.9 42.4,1.7C45.0,2.6 46.9,4.7 49.4,5.2C51.9,5.7 54.5,4.7 57.6,4.7C60.7,4.7 65.1,4.8 68.0,5.2C70.9,5.6 72.9,6.3 75.0,7.0C77.1,7.7 78.5,9.0 80.8,9.3C83.1,9.6 86.0,8.3 89.0,8.7C91.9,9.1 95.5,10.6 98.3,11.6C101.0,12.7 103.3,13.9 105.2,15.1C107.2,16.4 109.9,18.0 109.9,19.2C109.9,20.3 107.6,21.0 105.2,22.1C102.9,23.2 99.0,24.2 95.9,25.6C92.8,26.9 89.7,28.7 86.6,30.2C83.5,31.8 80.4,33.1 77.3,34.9C74.2,36.6 70.3,39.3 68.0,40.7C65.7,42.1 65.3,42.4 63.4,43.0C61.4,43.6 58.7,43.4 56.4,44.2C54.1,45.0 51.4,46.3 49.4,47.7C47.5,49.0 46.7,50.8 44.8,52.3C42.8,53.9 40.5,55.6 37.8,57.0C35.1,58.3 32.0,59.3 28.5,60.5C25.0,61.6 20.2,62.6 16.9,64.0C13.6,65.3 11.1,67.4 8.7,68.6C6.3,69.8 3.8,71.7 2.3,70.9Z" fill="none" stroke="#6a4a2c" stroke-width="1.4400000000000002" stroke-linejoin="round" opacity="0.9" filter="url(#rough)"/>
</g>
<g transform="translate(573.2,330.8) scale(1.0284,1.0503)">
<clipPath id="lc4"><path d="M2.3,70.9C0.9,70.2 0.2,67.1 0.0,64.0C-0.2,60.9 0.5,56.6 1.2,52.3C1.8,48.1 3.2,43.0 4.1,38.4C4.9,33.7 5.4,28.5 6.4,24.4C7.4,20.3 8.1,17.1 9.9,14.0C11.6,10.9 14.1,7.9 16.9,5.8C19.6,3.7 23.3,2.1 26.2,1.2C29.1,0.2 31.6,-0.1 34.3,0.0C37.0,0.1 39.9,0.9 42.4,1.7C45.0,2.6 46.9,4.7 49.4,5.2C51.9,5.7 54.5,4.7 57.6,4.7C60.7,4.7 65.1,4.8 68.0,5.2C70.9,5.6 72.9,6.3 75.0,7.0C77.1,7.7 78.5,9.0 80.8,9.3C83.1,9.6 86.0,8.3 89.0,8.7C91.9,9.1 95.5,10.6 98.3,11.6C101.0,12.7 103.3,13.9 105.2,15.1C107.2,16.4 109.9,18.0 109.9,19.2C109.9,20.3 107.6,21.0 105.2,22.1C102.9,23.2 99.0,24.2 95.9,25.6C92.8,26.9 89.7,28.7 86.6,30.2C83.5,31.8 80.4,33.1 77.3,34.9C74.2,36.6 70.3,39.3 68.0,40.7C65.7,42.1 65.3,42.4 63.4,43.0C61.4,43.6 58.7,43.4 56.4,44.2C54.1,45.0 51.4,46.3 49.4,47.7C47.5,49.0 46.7,50.8 44.8,52.3C42.8,53.9 40.5,55.6 37.8,57.0C35.1,58.3 32.0,59.3 28.5,60.5C25.0,61.6 20.2,62.6 16.9,64.0C13.6,65.3 11.1,67.4 8.7,68.6C6.3,69.8 3.8,71.7 2.3,70.9Z"/></clipPath>
<linearGradient id="lg4" x1="0" y1="1" x2="1" y2="0"><stop offset="0" stop-color="#5a281e"/><stop offset="1" stop-color="#6e2c2a"/></linearGradient>
<linearGradient id="lw4" x1="0.15" y1="1" x2="0.75" y2="0"><stop offset="0" stop-color="#5e2e26"/><stop offset="0.45" stop-color="#876650"/><stop offset="1" stop-color="#6e3e38"/></linearGradient>
<path d="M2.3,70.9C0.9,70.2 0.2,67.1 0.0,64.0C-0.2,60.9 0.5,56.6 1.2,52.3C1.8,48.1 3.2,43.0 4.1,38.4C4.9,33.7 5.4,28.5 6.4,24.4C7.4,20.3 8.1,17.1 9.9,14.0C11.6,10.9 14.1,7.9 16.9,5.8C19.6,3.7 23.3,2.1 26.2,1.2C29.1,0.2 31.6,-0.1 34.3,0.0C37.0,0.1 39.9,0.9 42.4,1.7C45.0,2.6 46.9,4.7 49.4,5.2C51.9,5.7 54.5,4.7 57.6,4.7C60.7,4.7 65.1,4.8 68.0,5.2C70.9,5.6 72.9,6.3 75.0,7.0C77.1,7.7 78.5,9.0 80.8,9.3C83.1,9.6 86.0,8.3 89.0,8.7C91.9,9.1 95.5,10.6 98.3,11.6C101.0,12.7 103.3,13.9 105.2,15.1C107.2,16.4 109.9,18.0 109.9,19.2C109.9,20.3 107.6,21.0 105.2,22.1C102.9,23.2 99.0,24.2 95.9,25.6C92.8,26.9 89.7,28.7 86.6,30.2C83.5,31.8 80.4,33.1 77.3,34.9C74.2,36.6 70.3,39.3 68.0,40.7C65.7,42.1 65.3,42.4 63.4,43.0C61.4,43.6 58.7,43.4 56.4,44.2C54.1,45.0 51.4,46.3 49.4,47.7C47.5,49.0 46.7,50.8 44.8,52.3C42.8,53.9 40.5,55.6 37.8,57.0C35.1,58.3 32.0,59.3 28.5,60.5C25.0,61.6 20.2,62.6 16.9,64.0C13.6,65.3 11.1,67.4 8.7,68.6C6.3,69.8 3.8,71.7 2.3,70.9Z" fill="url(#lg4)" stroke="#55301a" stroke-width="1.8" stroke-linejoin="round" filter="url(#rough)"/>
<g clip-path="url(#lc4)">
<path d="M15.7,37.2C17.1,36.6 20.9,34.7 23.8,33.7C26.7,32.8 30.4,32.4 33.1,31.4C35.9,30.4 37.6,28.7 40.1,27.9C42.6,27.1 45.5,27.5 48.3,26.7C51.0,26.0 53.5,24.1 56.4,23.3C59.3,22.4 62.6,22.2 65.7,21.5C68.8,20.8 71.9,19.9 75.0,19.2C78.1,18.5 81.2,18.1 84.3,17.4C87.4,16.8 90.7,15.4 93.6,15.1C96.5,14.8 99.0,15.0 101.7,15.7C104.5,16.4 108.5,18.6 109.9,19.2L105.2,22.1C103.7,22.7 99.0,24.2 95.9,25.6C92.8,26.9 89.7,28.7 86.6,30.2C83.5,31.8 80.4,33.1 77.3,34.9C74.2,36.6 70.3,39.3 68.0,40.7C65.7,42.1 65.3,42.4 63.4,43.0C61.4,43.6 58.7,43.4 56.4,44.2C54.1,45.0 51.4,46.3 49.4,47.7C47.5,49.0 46.7,50.8 44.8,52.3C42.8,53.9 40.5,55.6 37.8,57.0C35.1,58.3 31.6,59.5 28.5,60.5C25.4,61.4 21.5,63.8 19.2,62.8C16.9,61.8 15.4,57.6 14.5,54.7C13.7,51.7 14.1,46.9 14.0,45.3Z" fill="url(#lw4)"/>
<path d="M4.7,48.8C4.1,47.1 4.7,37.5 5.2,32.6C5.8,27.6 7.0,22.7 8.1,19.2C9.3,15.7 10.6,13.9 12.2,11.6C13.9,9.4 15.7,7.5 18.0,5.8C20.3,4.2 23.4,2.6 26.2,1.7C28.9,0.9 31.6,0.5 34.3,0.6C37.0,0.6 40.0,1.3 42.4,2.1C44.9,2.9 46.5,4.8 49.2,5.6C51.9,6.4 56.2,5.6 58.7,7.0C61.3,8.4 64.3,11.3 64.5,14.0C64.7,16.6 62.6,20.5 59.9,22.7C57.2,24.8 51.6,25.9 48.3,26.7C45.0,27.6 42.6,27.1 40.1,27.9C37.6,28.7 35.9,30.4 33.1,31.4C30.4,32.4 26.7,32.8 23.8,33.7C20.9,34.7 18.2,35.7 15.7,37.2C13.2,38.8 10.6,41.1 8.7,43.0C6.9,45.0 5.2,50.6 4.7,48.8Z" fill="#b09274" opacity="0.9" filter="url(#b2)"/>
<circle cx="60.1" cy="24.8" r="2.3" fill="#c6a688" opacity="0.85"/>
<circle cx="32.1" cy="36.2" r="1.8" fill="#c6a688" opacity="0.85"/>
<circle cx="12.2" cy="31.7" r="1.7" fill="#e4ceac" opacity="0.95"/>
<circle cx="36.5" cy="42.9" r="1.9" fill="#c6a688" opacity="0.85"/>
<circle cx="79.8" cy="31.8" r="1.7" fill="#c08c82" opacity="0.85"/>
<circle cx="47.8" cy="29.1" r="2.3" fill="#c6a688" opacity="0.85"/>
<circle cx="61.7" cy="14.5" r="2.2" fill="#e4ceac" opacity="0.95"/>
<circle cx="70.6" cy="28.4" r="2.1" fill="#c6a688" opacity="0.85"/>
<circle cx="16.0" cy="11.3" r="1.8" fill="#e4ceac" opacity="0.95"/>
<circle cx="8.5" cy="28.4" r="1.9" fill="#e4ceac" opacity="0.95"/>
<circle cx="71.7" cy="33.2" r="2.4" fill="#c6a688" opacity="0.85"/>
<circle cx="72.1" cy="23.1" r="2.4" fill="#c6a688" opacity="0.85"/>
<circle cx="23.1" cy="20.2" r="2.5" fill="#e4ceac" opacity="0.95"/>
<circle cx="3.4" cy="64.7" r="1.1" fill="#c08c82" opacity="0.7"/>
<circle cx="34.2" cy="1.5" r="2.1" fill="#e4ceac" opacity="0.95"/>
<circle cx="19.8" cy="32.0" r="1.7" fill="#e4ceac" opacity="0.95"/>
<circle cx="54.9" cy="9.7" r="1.6" fill="#e4ceac" opacity="0.95"/>
<circle cx="22.8" cy="44.7" r="2.4" fill="#c6a688" opacity="0.85"/>
<circle cx="27.3" cy="24.0" r="2.4" fill="#e4ceac" opacity="0.95"/>
<circle cx="35.0" cy="48.2" r="2.3" fill="#c6a688" opacity="0.85"/>
<circle cx="7.0" cy="23.2" r="1.3" fill="#c08c82" opacity="0.7"/>
<circle cx="96.6" cy="20.9" r="2.2" fill="#c08c82" opacity="0.85"/>
<circle cx="43.0" cy="11.4" r="1.8" fill="#e4ceac" opacity="0.95"/>
<circle cx="51.8" cy="45.5" r="2.5" fill="#c6a688" opacity="0.85"/>
<circle cx="51.0" cy="22.5" r="1.6" fill="#e4ceac" opacity="0.95"/>
<circle cx="33.6" cy="23.1" r="1.6" fill="#e4ceac" opacity="0.95"/>
<circle cx="78.4" cy="8.4" r="1.2" fill="#c08c82" opacity="0.7"/>
<circle cx="25.7" cy="16.2" r="2.1" fill="#e4ceac" opacity="0.95"/>
<circle cx="8.9" cy="18.7" r="2.5" fill="#e4ceac" opacity="0.95"/>
<circle cx="25.0" cy="9.8" r="1.8" fill="#e4ceac" opacity="0.95"/>
<circle cx="40.6" cy="46.4" r="2.2" fill="#c6a688" opacity="0.85"/>
<circle cx="31.9" cy="8.3" r="2.3" fill="#e4ceac" opacity="0.95"/>
<circle cx="81.1" cy="26.2" r="2.2" fill="#c08c82" opacity="0.85"/>
<circle cx="14.4" cy="49.0" r="1.8" fill="#c6a688" opacity="0.85"/>
<circle cx="58.5" cy="43.5" r="1.6" fill="#c6a688" opacity="0.85"/>
<circle cx="92.0" cy="17.9" r="2.2" fill="#c08c82" opacity="0.85"/>
<circle cx="24.4" cy="35.7" r="2.4" fill="#c6a688" opacity="0.85"/>
<circle cx="27.2" cy="44.2" r="2.0" fill="#c6a688" opacity="0.85"/>
<circle cx="33.9" cy="54.2" r="2.2" fill="#c6a688" opacity="0.85"/>
<circle cx="16.5" cy="19.7" r="2.2" fill="#e4ceac" opacity="0.95"/>
<circle cx="43.8" cy="40.9" r="1.6" fill="#c6a688" opacity="0.85"/>
<circle cx="68.2" cy="21.6" r="1.7" fill="#c6a688" opacity="0.85"/>
<circle cx="35.2" cy="11.4" r="2.0" fill="#e4ceac" opacity="0.95"/>
<circle cx="71.9" cy="10.0" r="1.7" fill="#c08c82" opacity="0.7"/>
<circle cx="87.1" cy="15.4" r="1.3" fill="#c08c82" opacity="0.7"/>
<circle cx="31.3" cy="17.7" r="1.7" fill="#e4ceac" opacity="0.95"/>
<circle cx="13.9" cy="41.1" r="1.2" fill="#c08c82" opacity="0.7"/>
<circle cx="59.4" cy="38.3" r="1.5" fill="#c6a688" opacity="0.85"/>
<circle cx="46.8" cy="16.3" r="2.4" fill="#e4ceac" opacity="0.95"/>
<circle cx="27.9" cy="57.8" r="1.5" fill="#c6a688" opacity="0.85"/>
<circle cx="80.8" cy="18.8" r="2.0" fill="#c08c82" opacity="0.85"/>
<circle cx="24.7" cy="53.4" r="2.0" fill="#c6a688" opacity="0.85"/>
<circle cx="10.3" cy="41.7" r="1.8" fill="#c08c82" opacity="0.7"/>
<circle cx="36.9" cy="24.9" r="2.1" fill="#e4ceac" opacity="0.95"/>
<circle cx="22.6" cy="27.3" r="2.4" fill="#e4ceac" opacity="0.95"/>
<circle cx="108.0" cy="19.5" r="1.8" fill="#c08c82" opacity="0.85"/>
<circle cx="17.5" cy="59.7" r="2.1" fill="#c6a688" opacity="0.85"/>
<circle cx="55.9" cy="19.7" r="1.8" fill="#e4ceac" opacity="0.95"/>
<circle cx="5.8" cy="63.3" r="1.4" fill="#c08c82" opacity="0.7"/>
<circle cx="27.2" cy="50.9" r="1.7" fill="#c6a688" opacity="0.85"/>
<circle cx="35.1" cy="29.8" r="1.5" fill="#e4ceac" opacity="0.95"/>
<circle cx="90.2" cy="11.5" r="1.2" fill="#c08c82" opacity="0.7"/>
<circle cx="50.1" cy="9.8" r="1.9" fill="#e4ceac" opacity="0.95"/>
<circle cx="97.8" cy="14.1" r="1.8" fill="#c08c82" opacity="0.7"/>
<circle cx="75.9" cy="11.7" r="1.5" fill="#c08c82" opacity="0.7"/>
<circle cx="23.7" cy="5.1" r="2.0" fill="#e4ceac" opacity="0.95"/>
<circle cx="59.4" cy="4.8" r="1.6" fill="#c08c82" opacity="0.7"/>
<circle cx="36.0" cy="34.6" r="1.9" fill="#c6a688" opacity="0.85"/>
<circle cx="47.5" cy="23.6" r="1.5" fill="#e4ceac" opacity="0.95"/>
<circle cx="4.9" cy="34.4" r="1.2" fill="#c08c82" opacity="0.7"/>
<circle cx="48.7" cy="40.4" r="2.4" fill="#c6a688" opacity="0.85"/>
<circle cx="67.0" cy="8.3" r="1.3" fill="#c08c82" opacity="0.7"/>
<circle cx="68.7" cy="36.6" r="2.4" fill="#c6a688" opacity="0.85"/>
<circle cx="62.1" cy="6.6" r="1.2" fill="#c08c82" opacity="0.7"/>
<circle cx="40.2" cy="41.4" r="1.9" fill="#c6a688" opacity="0.85"/>
<circle cx="29.2" cy="28.5" r="1.8" fill="#e4ceac" opacity="0.95"/>
<circle cx="19.7" cy="15.9" r="1.9" fill="#e4ceac" opacity="0.95"/>
<circle cx="24.3" cy="60.8" r="1.5" fill="#c6a688" opacity="0.85"/>
<circle cx="65.7" cy="19.7" r="1.4" fill="#c08c82" opacity="0.7"/>
<circle cx="48.0" cy="34.6" r="2.1" fill="#c6a688" opacity="0.85"/>
<circle cx="38.6" cy="30.8" r="2.3" fill="#c6a688" opacity="0.85"/>
<circle cx="18.0" cy="39.8" r="2.2" fill="#c6a688" opacity="0.85"/>
<circle cx="46.2" cy="4.0" r="1.1" fill="#c08c82" opacity="0.7"/>
<circle cx="76.3" cy="7.9" r="1.1" fill="#c08c82" opacity="0.7"/>
<circle cx="16.6" cy="29.6" r="2.3" fill="#e4ceac" opacity="0.95"/>
<circle cx="85.3" cy="20.0" r="2.0" fill="#c08c82" opacity="0.85"/>
<circle cx="11.8" cy="51.9" r="1.7" fill="#c08c82" opacity="0.7"/>
<circle cx="77.7" cy="23.3" r="2.0" fill="#c08c82" opacity="0.85"/>
<circle cx="6.3" cy="30.9" r="1.6" fill="#e4ceac" opacity="0.95"/>
<circle cx="52.8" cy="28.9" r="2.2" fill="#c6a688" opacity="0.85"/>
<circle cx="54.7" cy="5.3" r="1.7" fill="#c08c82" opacity="0.7"/>
<circle cx="87.8" cy="9.5" r="1.5" fill="#c08c82" opacity="0.7"/>
<circle cx="38.3" cy="1.8" r="2.2" fill="#e4ceac" opacity="0.95"/>
<circle cx="42.5" cy="4.2" r="2.2" fill="#e4ceac" opacity="0.95"/>
<circle cx="23.8" cy="40.1" r="2.0" fill="#c6a688" opacity="0.85"/>
<circle cx="84.9" cy="15.4" r="1.0" fill="#c08c82" opacity="0.7"/>
<circle cx="63.6" cy="32.1" r="2.4" fill="#c6a688" opacity="0.85"/>
<circle cx="42.6" cy="33.7" r="2.2" fill="#c6a688" opacity="0.85"/>
<circle cx="52.1" cy="14.9" r="2.3" fill="#e4ceac" opacity="0.95"/>
<circle cx="37.2" cy="56.6" r="2.2" fill="#c6a688" opacity="0.85"/>
<circle cx="4.8" cy="40.3" r="1.7" fill="#c08c82" opacity="0.7"/>
<circle cx="10.4" cy="37.2" r="2.4" fill="#e4ceac" opacity="0.95"/>
<circle cx="12.7" cy="45.6" r="1.4" fill="#c08c82" opacity="0.7"/>
<circle cx="12.1" cy="12.8" r="2.0" fill="#e4ceac" opacity="0.95"/>
<circle cx="84.8" cy="10.4" r="1.3" fill="#c08c82" opacity="0.7"/>
<circle cx="20.3" cy="54.6" r="2.3" fill="#c6a688" opacity="0.85"/>
<circle cx="12.6" cy="25.5" r="2.3" fill="#e4ceac" opacity="0.95"/>
<circle cx="28.7" cy="4.5" r="1.6" fill="#e4ceac" opacity="0.95"/>
<circle cx="68.8" cy="15.3" r="1.4" fill="#c08c82" opacity="0.7"/>
<circle cx="75.7" cy="17.0" r="1.6" fill="#c08c82" opacity="0.7"/>
<circle cx="66.2" cy="11.8" r="1.8" fill="#c08c82" opacity="0.7"/>
<circle cx="20.3" cy="4.3" r="1.5" fill="#c08c82" opacity="0.7"/>
<circle cx="81.2" cy="11.4" r="1.9" fill="#c08c82" opacity="0.7"/>
<circle cx="83.9" cy="30.1" r="1.5" fill="#c08c82" opacity="0.85"/>
<circle cx="88.8" cy="27.2" r="1.7" fill="#c08c82" opacity="0.85"/>
<circle cx="45.3" cy="50.2" r="1.9" fill="#c6a688" opacity="0.85"/>
<circle cx="92.4" cy="23.0" r="2.3" fill="#c08c82" opacity="0.85"/>
<circle cx="69.9" cy="6.6" r="1.3" fill="#c08c82" opacity="0.7"/>
<circle cx="52.2" cy="35.1" r="1.9" fill="#c6a688" opacity="0.85"/>
<circle cx="66.5" cy="41.3" r="2.1" fill="#c6a688" opacity="0.85"/>
<circle cx="47.7" cy="6.9" r="1.7" fill="#e4ceac" opacity="0.95"/>
<circle cx="2.9" cy="54.0" r="1.9" fill="#c08c82" opacity="0.7"/>
<circle cx="35.6" cy="18.1" r="1.5" fill="#e4ceac" opacity="0.95"/>
<circle cx="63.3" cy="21.0" r="1.1" fill="#c08c82" opacity="0.7"/>
<circle cx="63.0" cy="38.6" r="1.7" fill="#c6a688" opacity="0.85"/>
<circle cx="102.2" cy="14.0" r="1.7" fill="#c08c82" opacity="0.7"/>
<circle cx="43.7" cy="28.0" r="1.8" fill="#c6a688" opacity="0.85"/>
<circle cx="60.3" cy="34.9" r="1.7" fill="#c6a688" opacity="0.85"/>
<circle cx="103.6" cy="19.5" r="1.6" fill="#c08c82" opacity="0.85"/>
<circle cx="6.6" cy="51.1" r="1.6" fill="#c08c82" opacity="0.7"/>
<circle cx="41.5" cy="21.9" r="2.4" fill="#e4ceac" opacity="0.95"/>
<circle cx="4.1" cy="45.3" r="1.7" fill="#c08c82" opacity="0.7"/>
<circle cx="38.8" cy="50.9" r="2.2" fill="#c6a688" opacity="0.85"/>
<circle cx="15.2" cy="52.6" r="2.1" fill="#c6a688" opacity="0.85"/>
<circle cx="82.3" cy="16.1" r="1.0" fill="#c08c82" opacity="0.7"/>
<circle cx="87.8" cy="12.3" r="1.0" fill="#c08c82" opacity="0.7"/>
<circle cx="39.1" cy="13.5" r="2.2" fill="#e4ceac" opacity="0.95"/>
<circle cx="72.4" cy="14.7" r="1.7" fill="#c08c82" opacity="0.7"/>
<circle cx="15.9" cy="7.8" r="1.6" fill="#c08c82" opacity="0.7"/>
<circle cx="24.5" cy="49.0" r="1.8" fill="#c6a688" opacity="0.85"/>
<circle cx="93.7" cy="11.9" r="1.0" fill="#c08c82" opacity="0.7"/>
<circle cx="66.5" cy="26.6" r="1.9" fill="#c6a688" opacity="0.85"/>
<circle cx="2.6" cy="58.3" r="1.5" fill="#c08c82" opacity="0.7"/>
<circle cx="57.5" cy="14.8" r="2.2" fill="#e4ceac" opacity="0.95"/>
<circle cx="60.4" cy="19.8" r="1.9" fill="#e4ceac" opacity="0.95"/>
<circle cx="101.0" cy="16.9" r="1.7" fill="#c08c82" opacity="0.85"/>
<circle cx="6.1" cy="66.8" r="1.1" fill="#c08c82" opacity="0.7"/>
<circle cx="55.5" cy="38.9" r="2.0" fill="#c6a688" opacity="0.85"/>
<circle cx="20.4" cy="12.5" r="1.8" fill="#e4ceac" opacity="0.95"/>
<circle cx="31.5" cy="44.8" r="2.1" fill="#c6a688" opacity="0.85"/>
<circle cx="101.7" cy="22.9" r="2.2" fill="#c08c82" opacity="0.85"/>
<circle cx="44.1" cy="7.7" r="1.8" fill="#e4ceac" opacity="0.95"/>
<circle cx="1.5" cy="67.7" r="1.2" fill="#c08c82" opacity="0.7"/>
<circle cx="1.1" cy="64.7" r="1.1" fill="#c08c82" opacity="0.7"/>
<circle cx="39.3" cy="8.8" r="1.8" fill="#e4ceac" opacity="0.95"/>
<circle cx="21.4" cy="8.5" r="1.5" fill="#e4ceac" opacity="0.95"/>
<circle cx="63.4" cy="17.7" r="1.2" fill="#c08c82" opacity="0.7"/>
<circle cx="7.7" cy="59.8" r="1.4" fill="#c08c82" opacity="0.7"/>
<circle cx="78.0" cy="34.3" r="1.6" fill="#c08c82" opacity="0.85"/>
<circle cx="9.9" cy="63.2" r="1.7" fill="#c08c82" opacity="0.7"/>
<circle cx="64.8" cy="6.5" r="1.7" fill="#c08c82" opacity="0.7"/>
<circle cx="33.1" cy="58.3" r="1.5" fill="#c6a688" opacity="0.85"/>
<circle cx="78.4" cy="15.8" r="1.5" fill="#c08c82" opacity="0.7"/>
<circle cx="69.5" cy="12.2" r="1.6" fill="#c08c82" opacity="0.7"/>
<circle cx="75.7" cy="28.1" r="2.4" fill="#c6a688" opacity="0.85"/>
<circle cx="7.7" cy="48.5" r="1.1" fill="#c08c82" opacity="0.7"/>
<circle cx="40.7" cy="16.9" r="1.8" fill="#e4ceac" opacity="0.95"/>
<circle cx="6.7" cy="25.8" r="1.2" fill="#c08c82" opacity="0.7"/>
<circle cx="4.1" cy="69.9" r="1.9" fill="#c08c82" opacity="0.7"/>
<circle cx="46.9" cy="45.1" r="2.4" fill="#c6a688" opacity="0.85"/>
<circle cx="15.5" cy="63.4" r="1.6" fill="#c08c82" opacity="0.7"/>
<circle cx="8.5" cy="45.8" r="1.6" fill="#c08c82" opacity="0.7"/>
<circle cx="16.8" cy="44.7" r="1.8" fill="#c6a688" opacity="0.85"/>
<circle cx="30.2" cy="40.5" r="1.8" fill="#c6a688" opacity="0.85"/>
<circle cx="48.4" cy="48.7" r="1.6" fill="#c6a688" opacity="0.85"/>
<circle cx="59.9" cy="9.0" r="1.8" fill="#e4ceac" opacity="0.95"/>
<circle cx="56.3" cy="31.6" r="2.2" fill="#c6a688" opacity="0.85"/>
<circle cx="72.5" cy="36.7" r="1.5" fill="#c6a688" opacity="0.85"/>
<circle cx="24.9" cy="31.2" r="2.3" fill="#e4ceac" opacity="0.95"/>
<circle cx="7.8" cy="55.1" r="1.2" fill="#c08c82" opacity="0.7"/>
<circle cx="29.6" cy="14.1" r="2.0" fill="#e4ceac" opacity="0.95"/>
<circle cx="18.3" cy="49.0" r="2.3" fill="#c6a688" opacity="0.85"/>
<circle cx="30.8" cy="49.9" r="2.1" fill="#c6a688" opacity="0.85"/>
<circle cx="37.0" cy="38.3" r="1.6" fill="#c6a688" opacity="0.85"/>
<circle cx="36.8" cy="6.8" r="1.6" fill="#e4ceac" opacity="0.95"/>
<circle cx="17.5" cy="25.5" r="1.7" fill="#e4ceac" opacity="0.95"/>
<circle cx="65.8" cy="16.2" r="1.5" fill="#c08c82" opacity="0.7"/>
<circle cx="10.4" cy="60.0" r="1.4" fill="#c08c82" opacity="0.7"/>
<circle cx="15.2" cy="36.4" r="1.8" fill="#e4ceac" opacity="0.95"/>
<circle cx="15.3" cy="15.3" r="2.3" fill="#e4ceac" opacity="0.95"/>
<circle cx="55.8" cy="25.1" r="1.9" fill="#c6a688" opacity="0.85"/>
<circle cx="45.4" cy="37.3" r="1.6" fill="#c6a688" opacity="0.85"/>
<circle cx="6.1" cy="57.1" r="1.2" fill="#c08c82" opacity="0.7"/>
<circle cx="46.5" cy="11.5" r="1.8" fill="#e4ceac" opacity="0.95"/>
<circle cx="20.2" cy="62.9" r="1.2" fill="#c08c82" opacity="0.7"/>
<circle cx="29.1" cy="1.1" r="1.1" fill="#c08c82" opacity="0.7"/>
<circle cx="54.6" cy="42.4" r="2.0" fill="#c6a688" opacity="0.85"/>
<circle cx="14.5" cy="56.5" r="1.3" fill="#c08c82" opacity="0.7"/>
<circle cx="20.4" cy="24.1" r="1.7" fill="#e4ceac" opacity="0.95"/>
<circle cx="9.3" cy="57.5" r="1.0" fill="#c08c82" opacity="0.7"/>
<circle cx="72.2" cy="18.6" r="1.3" fill="#c08c82" opacity="0.7"/>
<circle cx="30.6" cy="56.5" r="1.6" fill="#c6a688" opacity="0.85"/>
<circle cx="63.7" cy="8.9" r="1.1" fill="#c08c82" opacity="0.7"/>
<circle cx="21.4" cy="58.7" r="2.0" fill="#c6a688" opacity="0.85"/>
<circle cx="13.1" cy="66.1" r="1.7" fill="#c08c82" opacity="0.7"/>
<circle cx="41.6" cy="38.1" r="1.8" fill="#c6a688" opacity="0.85"/>
<circle cx="48.7" cy="19.9" r="1.6" fill="#e4ceac" opacity="0.95"/>
<circle cx="88.3" cy="22.2" r="2.0" fill="#c08c82" opacity="0.85"/>
<circle cx="85.4" cy="24.7" r="2.0" fill="#c08c82" opacity="0.85"/>
<circle cx="105.2" cy="16.2" r="1.8" fill="#c08c82" opacity="0.7"/>
<circle cx="25.5" cy="1.9" r="1.5" fill="#c08c82" opacity="0.7"/>
<circle cx="42.3" cy="53.3" r="2.3" fill="#c6a688" opacity="0.85"/>
<circle cx="31.5" cy="32.9" r="1.6" fill="#c6a688" opacity="0.85"/>
<circle cx="12.9" cy="18.1" r="1.5" fill="#e4ceac" opacity="0.95"/>
<circle cx="10.0" cy="67.7" r="1.6" fill="#c08c82" opacity="0.7"/>
<circle cx="2.7" cy="61.0" r="1.1" fill="#c08c82" opacity="0.7"/>
<circle cx="27.9" cy="34.5" r="1.6" fill="#c6a688" opacity="0.85"/>
<circle cx="13.8" cy="61.2" r="1.0" fill="#c08c82" opacity="0.7"/>
<circle cx="6.8" cy="36.9" r="1.5" fill="#e4ceac" opacity="0.95"/>
<circle cx="18.8" cy="36.1" r="1.5" fill="#c6a688" opacity="0.85"/>
<circle cx="95.0" cy="13.9" r="1.1" fill="#c08c82" opacity="0.7"/>
<circle cx="74.7" cy="9.5" r="1.1" fill="#c08c82" opacity="0.7"/>
<circle cx="29.0" cy="19.9" r="1.6" fill="#e4ceac" opacity="0.95"/>
<circle cx="67.9" cy="30.9" r="1.7" fill="#c6a688" opacity="0.85"/>
<circle cx="96.3" cy="11.1" r="1.7" fill="#c08c82" opacity="0.7"/>
<circle cx="83.1" cy="14.2" r="1.0" fill="#c08c82" opacity="0.7"/>
<circle cx="51.5" cy="5.5" r="1.6" fill="#c08c82" opacity="0.7"/>
<circle cx="32.4" cy="27.1" r="1.7" fill="#e4ceac" opacity="0.95"/>
<circle cx="9.7" cy="15.0" r="1.2" fill="#c08c82" opacity="0.7"/>
<circle cx="97.6" cy="24.8" r="1.9" fill="#c08c82" opacity="0.85"/>
<circle cx="12.2" cy="57.0" r="1.1" fill="#c08c82" opacity="0.7"/>
<circle cx="63.3" cy="11.4" r="1.0" fill="#c08c82" opacity="0.7"/>
<circle cx="43.6" cy="24.9" r="1.5" fill="#e4ceac" opacity="0.95"/>
<circle cx="28.2" cy="8.1" r="1.8" fill="#e4ceac" opacity="0.95"/>
<circle cx="73.6" cy="7.1" r="1.6" fill="#c08c82" opacity="0.7"/>
<circle cx="35.5" cy="15.0" r="1.6" fill="#e4ceac" opacity="0.95"/>
<circle cx="94.0" cy="26.5" r="1.5" fill="#c08c82" opacity="0.85"/>
<circle cx="89.9" cy="14.5" r="1.3" fill="#c08c82" opacity="0.7"/>
<circle cx="28.9" cy="31.7" r="1.5" fill="#e4ceac" opacity="0.95"/>
<circle cx="51.7" cy="19.2" r="1.6" fill="#e4ceac" opacity="0.95"/>
<circle cx="60.1" cy="29.2" r="2.2" fill="#c6a688" opacity="0.85"/>
<circle cx="15.0" cy="33.2" r="1.6" fill="#e4ceac" opacity="0.95"/>
<circle cx="40.8" cy="26.3" r="1.7" fill="#e4ceac" opacity="0.95"/>
<circle cx="80.4" cy="14.4" r="1.1" fill="#c08c82" opacity="0.7"/>
<circle cx="30.3" cy="59.6" r="1.5" fill="#c6a688" opacity="0.85"/>
<circle cx="69.7" cy="18.5" r="1.0" fill="#c08c82" opacity="0.7"/>
<circle cx="12.7" cy="21.5" r="1.6" fill="#e4ceac" opacity="0.95"/>
<circle cx="67.4" cy="5.5" r="1.3" fill="#c08c82" opacity="0.7"/>
<circle cx="29.5" cy="53.3" r="1.5" fill="#c6a688" opacity="0.85"/>
<circle cx="37.5" cy="21.0" r="1.8" fill="#e4ceac" opacity="0.95"/>
<circle cx="82.1" cy="22.3" r="1.8" fill="#c08c82" opacity="0.85"/>
<circle cx="69.2" cy="9.1" r="1.1" fill="#c08c82" opacity="0.7"/>
<circle cx="14.1" cy="43.4" r="1.1" fill="#c08c82" opacity="0.7"/>
<circle cx="12.8" cy="54.7" r="1.1" fill="#c08c82" opacity="0.7"/>
<circle cx="61.0" cy="41.2" r="1.7" fill="#c6a688" opacity="0.85"/>
<circle cx="50.0" cy="25.8" r="2.0" fill="#e4ceac" opacity="0.95"/>
<circle cx="27.4" cy="38.5" r="1.8" fill="#c6a688" opacity="0.85"/>
<circle cx="8.9" cy="33.3" r="1.7" fill="#e4ceac" opacity="0.95"/>
<circle cx="7.5" cy="65.3" r="1.2" fill="#c08c82" opacity="0.7"/>
<circle cx="57.2" cy="36.0" r="1.7" fill="#c6a688" opacity="0.85"/>
<path d="M15.7,37.2C17.3,38.0 13.8,42.4 13.6,45.3C13.4,48.3 13.5,51.7 14.5,54.7C15.6,57.6 20.7,60.6 19.8,63.0C18.8,65.4 11.7,67.7 8.7,69.2C5.7,70.7 3.4,73.0 1.7,72.1C0.1,71.2 -1.0,67.2 -1.2,64.0C-1.4,60.7 -0.3,56.2 0.6,52.3C1.5,48.4 1.6,43.2 4.1,40.7C6.6,38.2 14.1,36.4 15.7,37.2Z" fill="#451a14" opacity="0.55" filter="url(#b1)"/>
<ellipse cx="27.3" cy="44.8" rx="13" ry="5.5" fill="#451a14" opacity="0.85" filter="url(#b2)" transform="rotate(-12 27.3 44.8)"/>
<path d="M15.7,37.2C17.1,36.6 20.9,34.7 23.8,33.7C26.7,32.8 30.4,32.4 33.1,31.4C35.9,30.4 37.6,28.7 40.1,27.9C42.6,27.1 45.5,27.5 48.3,26.7C51.0,26.0 53.5,24.1 56.4,23.3C59.3,22.4 62.6,22.2 65.7,21.5C68.8,20.8 71.9,19.9 75.0,19.2C78.1,18.5 81.2,18.1 84.3,17.4C87.4,16.8 90.7,15.4 93.6,15.1C96.5,14.8 99.0,15.0 101.7,15.7C104.5,16.4 108.5,18.6 109.9,19.2" fill="none" stroke="#451a14" stroke-width="2.6" opacity="0.85" filter="url(#b1)" transform="translate(0,1.6)"/>
<ellipse cx="61.6" cy="42.1" rx="4.5" ry="1.8" fill="#5a3020" transform="rotate(-20 61.6 42.1)"/>
</g>
<path d="M2.3,70.9C0.9,70.2 0.2,67.1 0.0,64.0C-0.2,60.9 0.5,56.6 1.2,52.3C1.8,48.1 3.2,43.0 4.1,38.4C4.9,33.7 5.4,28.5 6.4,24.4C7.4,20.3 8.1,17.1 9.9,14.0C11.6,10.9 14.1,7.9 16.9,5.8C19.6,3.7 23.3,2.1 26.2,1.2C29.1,0.2 31.6,-0.1 34.3,0.0C37.0,0.1 39.9,0.9 42.4,1.7C45.0,2.6 46.9,4.7 49.4,5.2C51.9,5.7 54.5,4.7 57.6,4.7C60.7,4.7 65.1,4.8 68.0,5.2C70.9,5.6 72.9,6.3 75.0,7.0C77.1,7.7 78.5,9.0 80.8,9.3C83.1,9.6 86.0,8.3 89.0,8.7C91.9,9.1 95.5,10.6 98.3,11.6C101.0,12.7 103.3,13.9 105.2,15.1C107.2,16.4 109.9,18.0 109.9,19.2C109.9,20.3 107.6,21.0 105.2,22.1C102.9,23.2 99.0,24.2 95.9,25.6C92.8,26.9 89.7,28.7 86.6,30.2C83.5,31.8 80.4,33.1 77.3,34.9C74.2,36.6 70.3,39.3 68.0,40.7C65.7,42.1 65.3,42.4 63.4,43.0C61.4,43.6 58.7,43.4 56.4,44.2C54.1,45.0 51.4,46.3 49.4,47.7C47.5,49.0 46.7,50.8 44.8,52.3C42.8,53.9 40.5,55.6 37.8,57.0C35.1,58.3 32.0,59.3 28.5,60.5C25.0,61.6 20.2,62.6 16.9,64.0C13.6,65.3 11.1,67.4 8.7,68.6C6.3,69.8 3.8,71.7 2.3,70.9Z" fill="none" stroke="#55301a" stroke-width="1.4400000000000002" stroke-linejoin="round" opacity="0.9" filter="url(#rough)"/>
</g>
<g transform="translate(759.4,327.6) scale(1.0174,1.0503)">
<clipPath id="lc5"><path d="M2.3,70.9C0.9,70.2 0.2,67.1 0.0,64.0C-0.2,60.9 0.5,56.6 1.2,52.3C1.8,48.1 3.2,43.0 4.1,38.4C4.9,33.7 5.4,28.5 6.4,24.4C7.4,20.3 8.1,17.1 9.9,14.0C11.6,10.9 14.1,7.9 16.9,5.8C19.6,3.7 23.3,2.1 26.2,1.2C29.1,0.2 31.6,-0.1 34.3,0.0C37.0,0.1 39.9,0.9 42.4,1.7C45.0,2.6 46.9,4.7 49.4,5.2C51.9,5.7 54.5,4.7 57.6,4.7C60.7,4.7 65.1,4.8 68.0,5.2C70.9,5.6 72.9,6.3 75.0,7.0C77.1,7.7 78.5,9.0 80.8,9.3C83.1,9.6 86.0,8.3 89.0,8.7C91.9,9.1 95.5,10.6 98.3,11.6C101.0,12.7 103.3,13.9 105.2,15.1C107.2,16.4 109.9,18.0 109.9,19.2C109.9,20.3 107.6,21.0 105.2,22.1C102.9,23.2 99.0,24.2 95.9,25.6C92.8,26.9 89.7,28.7 86.6,30.2C83.5,31.8 80.4,33.1 77.3,34.9C74.2,36.6 70.3,39.3 68.0,40.7C65.7,42.1 65.3,42.4 63.4,43.0C61.4,43.6 58.7,43.4 56.4,44.2C54.1,45.0 51.4,46.3 49.4,47.7C47.5,49.0 46.7,50.8 44.8,52.3C42.8,53.9 40.5,55.6 37.8,57.0C35.1,58.3 32.0,59.3 28.5,60.5C25.0,61.6 20.2,62.6 16.9,64.0C13.6,65.3 11.1,67.4 8.7,68.6C6.3,69.8 3.8,71.7 2.3,70.9Z"/></clipPath>
<linearGradient id="lg5" x1="0" y1="1" x2="1" y2="0"><stop offset="0" stop-color="#58181a"/><stop offset="1" stop-color="#7a2826"/></linearGradient>
<linearGradient id="lw5" x1="0.15" y1="1" x2="0.75" y2="0"><stop offset="0" stop-color="#601c1c"/><stop offset="0.45" stop-color="#762e2c"/><stop offset="1" stop-color="#8a3030"/></linearGradient>
<path d="M2.3,70.9C0.9,70.2 0.2,67.1 0.0,64.0C-0.2,60.9 0.5,56.6 1.2,52.3C1.8,48.1 3.2,43.0 4.1,38.4C4.9,33.7 5.4,28.5 6.4,24.4C7.4,20.3 8.1,17.1 9.9,14.0C11.6,10.9 14.1,7.9 16.9,5.8C19.6,3.7 23.3,2.1 26.2,1.2C29.1,0.2 31.6,-0.1 34.3,0.0C37.0,0.1 39.9,0.9 42.4,1.7C45.0,2.6 46.9,4.7 49.4,5.2C51.9,5.7 54.5,4.7 57.6,4.7C60.7,4.7 65.1,4.8 68.0,5.2C70.9,5.6 72.9,6.3 75.0,7.0C77.1,7.7 78.5,9.0 80.8,9.3C83.1,9.6 86.0,8.3 89.0,8.7C91.9,9.1 95.5,10.6 98.3,11.6C101.0,12.7 103.3,13.9 105.2,15.1C107.2,16.4 109.9,18.0 109.9,19.2C109.9,20.3 107.6,21.0 105.2,22.1C102.9,23.2 99.0,24.2 95.9,25.6C92.8,26.9 89.7,28.7 86.6,30.2C83.5,31.8 80.4,33.1 77.3,34.9C74.2,36.6 70.3,39.3 68.0,40.7C65.7,42.1 65.3,42.4 63.4,43.0C61.4,43.6 58.7,43.4 56.4,44.2C54.1,45.0 51.4,46.3 49.4,47.7C47.5,49.0 46.7,50.8 44.8,52.3C42.8,53.9 40.5,55.6 37.8,57.0C35.1,58.3 32.0,59.3 28.5,60.5C25.0,61.6 20.2,62.6 16.9,64.0C13.6,65.3 11.1,67.4 8.7,68.6C6.3,69.8 3.8,71.7 2.3,70.9Z" fill="url(#lg5)" stroke="#561816" stroke-width="1.8" stroke-linejoin="round" filter="url(#rough)"/>
<g clip-path="url(#lc5)">
<path d="M15.7,37.2C17.1,36.6 20.9,34.7 23.8,33.7C26.7,32.8 30.4,32.4 33.1,31.4C35.9,30.4 37.6,28.7 40.1,27.9C42.6,27.1 45.5,27.5 48.3,26.7C51.0,26.0 53.5,24.1 56.4,23.3C59.3,22.4 62.6,22.2 65.7,21.5C68.8,20.8 71.9,19.9 75.0,19.2C78.1,18.5 81.2,18.1 84.3,17.4C87.4,16.8 90.7,15.4 93.6,15.1C96.5,14.8 99.0,15.0 101.7,15.7C104.5,16.4 108.5,18.6 109.9,19.2L105.2,22.1C103.7,22.7 99.0,24.2 95.9,25.6C92.8,26.9 89.7,28.7 86.6,30.2C83.5,31.8 80.4,33.1 77.3,34.9C74.2,36.6 70.3,39.3 68.0,40.7C65.7,42.1 65.3,42.4 63.4,43.0C61.4,43.6 58.7,43.4 56.4,44.2C54.1,45.0 51.4,46.3 49.4,47.7C47.5,49.0 46.7,50.8 44.8,52.3C42.8,53.9 40.5,55.6 37.8,57.0C35.1,58.3 31.6,59.5 28.5,60.5C25.4,61.4 21.5,63.8 19.2,62.8C16.9,61.8 15.4,57.6 14.5,54.7C13.7,51.7 14.1,46.9 14.0,45.3Z" fill="url(#lw5)"/>
<path d="M3.5,54.7C3.2,51.6 4.1,43.4 4.7,38.4C5.2,33.3 5.9,28.5 7.0,24.4C8.0,20.3 9.6,16.7 11.0,14.0C12.5,11.2 15.2,7.2 15.7,8.1C16.2,9.1 14.5,15.7 14.0,19.8C13.4,23.8 12.9,28.3 12.2,32.6C11.5,36.8 10.9,41.3 9.9,45.3C8.9,49.4 7.5,55.4 6.4,57.0C5.3,58.5 3.8,57.8 3.5,54.7Z" fill="#b08878" opacity="0.7" filter="url(#b1)"/>
<circle cx="27.7" cy="51.3" r="1.9" fill="#b4706a" opacity="0.68"/>
<circle cx="61.4" cy="38.4" r="2.1" fill="#b4706a" opacity="0.68"/>
<circle cx="38.3" cy="56.6" r="2.4" fill="#b4706a" opacity="0.68"/>
<circle cx="43.3" cy="9.5" r="1.4" fill="#a4605c" opacity="0.5599999999999999"/>
<circle cx="20.9" cy="49.6" r="1.8" fill="#b4706a" opacity="0.68"/>
<circle cx="96.6" cy="12.6" r="1.5" fill="#a4605c" opacity="0.5599999999999999"/>
<circle cx="16.0" cy="61.7" r="1.3" fill="#a4605c" opacity="0.5599999999999999"/>
<circle cx="23.5" cy="35.1" r="2.4" fill="#b4706a" opacity="0.68"/>
<circle cx="66.9" cy="17.3" r="1.5" fill="#a4605c" opacity="0.5599999999999999"/>
<circle cx="71.1" cy="21.4" r="2.5" fill="#b4706a" opacity="0.68"/>
<circle cx="10.1" cy="17.2" r="1.7" fill="#c89888" opacity="0.76"/>
<circle cx="19.1" cy="5.4" r="1.2" fill="#a4605c" opacity="0.5599999999999999"/>
<circle cx="38.6" cy="12.7" r="1.5" fill="#a4605c" opacity="0.5599999999999999"/>
<circle cx="71.1" cy="15.5" r="1.6" fill="#a4605c" opacity="0.5599999999999999"/>
<circle cx="31.2" cy="1.2" r="1.3" fill="#a4605c" opacity="0.5599999999999999"/>
<circle cx="33.2" cy="35.3" r="1.6" fill="#b4706a" opacity="0.68"/>
<circle cx="30.2" cy="57.4" r="2.5" fill="#b4706a" opacity="0.68"/>
<circle cx="15.9" cy="32.1" r="1.1" fill="#a4605c" opacity="0.5599999999999999"/>
<circle cx="14.6" cy="48.1" r="1.8" fill="#b4706a" opacity="0.68"/>
<circle cx="49.6" cy="40.4" r="1.9" fill="#b4706a" opacity="0.68"/>
<circle cx="39.5" cy="30.2" r="1.6" fill="#b4706a" opacity="0.68"/>
<circle cx="39.6" cy="8.6" r="1.6" fill="#a4605c" opacity="0.5599999999999999"/>
<circle cx="46.0" cy="29.8" r="2.4" fill="#b4706a" opacity="0.68"/>
<circle cx="17.9" cy="37.5" r="2.1" fill="#b4706a" opacity="0.68"/>
<circle cx="66.3" cy="36.6" r="2.4" fill="#b4706a" opacity="0.68"/>
<circle cx="49.2" cy="34.9" r="2.0" fill="#b4706a" opacity="0.68"/>
<circle cx="71.3" cy="27.9" r="2.1" fill="#b4706a" opacity="0.68"/>
<circle cx="20.0" cy="27.1" r="1.4" fill="#a4605c" opacity="0.5599999999999999"/>
<circle cx="43.9" cy="36.7" r="2.1" fill="#b4706a" opacity="0.68"/>
<circle cx="19.8" cy="60.4" r="2.4" fill="#b4706a" opacity="0.68"/>
<circle cx="21.5" cy="8.4" r="1.8" fill="#a4605c" opacity="0.5599999999999999"/>
<circle cx="10.0" cy="21.5" r="2.4" fill="#c89888" opacity="0.76"/>
<circle cx="46.9" cy="11.4" r="1.1" fill="#a4605c" opacity="0.5599999999999999"/>
<circle cx="80.0" cy="23.5" r="1.7" fill="#a4605c" opacity="0.68"/>
<circle cx="11.7" cy="26.9" r="1.8" fill="#c89888" opacity="0.76"/>
<circle cx="93.8" cy="18.8" r="1.6" fill="#a4605c" opacity="0.68"/>
<circle cx="49.2" cy="22.1" r="1.6" fill="#a4605c" opacity="0.5599999999999999"/>
<circle cx="62.3" cy="6.0" r="1.2" fill="#a4605c" opacity="0.5599999999999999"/>
<circle cx="74.9" cy="26.2" r="2.2" fill="#b4706a" opacity="0.68"/>
<circle cx="7.0" cy="47.4" r="1.7" fill="#c89888" opacity="0.76"/>
<circle cx="15.7" cy="44.4" r="2.0" fill="#b4706a" opacity="0.68"/>
<circle cx="38.5" cy="1.3" r="1.5" fill="#a4605c" opacity="0.5599999999999999"/>
<circle cx="81.9" cy="28.9" r="2.5" fill="#a4605c" opacity="0.68"/>
<circle cx="52.3" cy="16.7" r="1.0" fill="#a4605c" opacity="0.5599999999999999"/>
<circle cx="80.8" cy="19.4" r="1.6" fill="#a4605c" opacity="0.68"/>
<circle cx="66.6" cy="19.9" r="1.3" fill="#a4605c" opacity="0.5599999999999999"/>
<circle cx="61.3" cy="29.1" r="2.0" fill="#b4706a" opacity="0.68"/>
<circle cx="20.3" cy="11.0" r="1.1" fill="#a4605c" opacity="0.5599999999999999"/>
<circle cx="24.6" cy="14.0" r="1.6" fill="#a4605c" opacity="0.5599999999999999"/>
<circle cx="19.2" cy="24.3" r="1.3" fill="#a4605c" opacity="0.5599999999999999"/>
<circle cx="82.1" cy="9.4" r="1.7" fill="#a4605c" opacity="0.5599999999999999"/>
<circle cx="25.7" cy="3.0" r="1.8" fill="#a4605c" opacity="0.5599999999999999"/>
<circle cx="39.0" cy="37.2" r="1.7" fill="#b4706a" opacity="0.68"/>
<circle cx="45.1" cy="47.9" r="2.2" fill="#b4706a" opacity="0.68"/>
<circle cx="56.9" cy="34.4" r="2.4" fill="#b4706a" opacity="0.68"/>
<circle cx="6.1" cy="27.6" r="1.2" fill="#a4605c" opacity="0.5599999999999999"/>
<circle cx="29.7" cy="30.3" r="1.2" fill="#a4605c" opacity="0.5599999999999999"/>
<circle cx="68.1" cy="31.2" r="1.9" fill="#b4706a" opacity="0.68"/>
<circle cx="92.7" cy="26.7" r="1.9" fill="#a4605c" opacity="0.68"/>
<circle cx="14.5" cy="56.7" r="1.6" fill="#a4605c" opacity="0.5599999999999999"/>
<circle cx="56.9" cy="23.7" r="1.8" fill="#b4706a" opacity="0.68"/>
<circle cx="51.5" cy="28.3" r="2.1" fill="#b4706a" opacity="0.68"/>
<circle cx="48.1" cy="5.2" r="1.5" fill="#a4605c" opacity="0.5599999999999999"/>
<circle cx="26.2" cy="9.9" r="1.6" fill="#a4605c" opacity="0.5599999999999999"/>
<circle cx="9.2" cy="62.5" r="1.2" fill="#a4605c" opacity="0.5599999999999999"/>
<circle cx="12.7" cy="60.1" r="1.5" fill="#a4605c" opacity="0.5599999999999999"/>
<circle cx="23.0" cy="55.5" r="1.8" fill="#b4706a" opacity="0.68"/>
<circle cx="7.0" cy="64.3" r="1.1" fill="#a4605c" opacity="0.5599999999999999"/>
<circle cx="76.2" cy="21.5" r="1.9" fill="#b4706a" opacity="0.68"/>
<circle cx="64.0" cy="26.0" r="2.4" fill="#b4706a" opacity="0.68"/>
<circle cx="45.9" cy="23.6" r="1.7" fill="#a4605c" opacity="0.5599999999999999"/>
<circle cx="23.8" cy="42.6" r="1.5" fill="#b4706a" opacity="0.68"/>
<circle cx="59.5" cy="14.7" r="1.1" fill="#a4605c" opacity="0.5599999999999999"/>
<circle cx="68.3" cy="6.6" r="1.6" fill="#a4605c" opacity="0.5599999999999999"/>
<circle cx="98.3" cy="21.6" r="2.3" fill="#a4605c" opacity="0.68"/>
<circle cx="78.1" cy="9.9" r="1.8" fill="#a4605c" opacity="0.5599999999999999"/>
<circle cx="52.2" cy="21.7" r="1.5" fill="#a4605c" opacity="0.5599999999999999"/>
<circle cx="60.6" cy="19.7" r="1.3" fill="#a4605c" opacity="0.5599999999999999"/>
<circle cx="10.4" cy="14.2" r="1.1" fill="#a4605c" opacity="0.5599999999999999"/>
<circle cx="9.6" cy="33.6" r="1.8" fill="#c89888" opacity="0.76"/>
<circle cx="41.6" cy="43.8" r="2.3" fill="#b4706a" opacity="0.68"/>
<circle cx="35.1" cy="17.3" r="1.8" fill="#a4605c" opacity="0.5599999999999999"/>
<circle cx="38.3" cy="22.3" r="1.4" fill="#a4605c" opacity="0.5599999999999999"/>
<circle cx="34.4" cy="22.7" r="1.8" fill="#a4605c" opacity="0.5599999999999999"/>
<circle cx="83.8" cy="20.1" r="1.5" fill="#a4605c" opacity="0.68"/>
<circle cx="8.5" cy="38.8" r="2.5" fill="#c89888" opacity="0.76"/>
<circle cx="63.8" cy="11.9" r="1.9" fill="#a4605c" opacity="0.5599999999999999"/>
<circle cx="59.1" cy="5.4" r="1.6" fill="#a4605c" opacity="0.5599999999999999"/>
<circle cx="30.1" cy="42.3" r="1.9" fill="#b4706a" opacity="0.68"/>
<circle cx="54.8" cy="10.8" r="1.5" fill="#a4605c" opacity="0.5599999999999999"/>
<circle cx="106.4" cy="20.9" r="1.6" fill="#a4605c" opacity="0.68"/>
<circle cx="6.1" cy="43.7" r="2.4" fill="#c89888" opacity="0.76"/>
<circle cx="8.6" cy="30.5" r="1.5" fill="#c89888" opacity="0.76"/>
<circle cx="31.6" cy="16.6" r="1.0" fill="#a4605c" opacity="0.5599999999999999"/>
<circle cx="30.4" cy="10.0" r="1.4" fill="#a4605c" opacity="0.5599999999999999"/>
<circle cx="27.0" cy="7.5" r="1.0" fill="#a4605c" opacity="0.5599999999999999"/>
<circle cx="59.7" cy="22.1" r="1.2" fill="#a4605c" opacity="0.5599999999999999"/>
<circle cx="37.0" cy="45.8" r="1.7" fill="#b4706a" opacity="0.68"/>
<circle cx="50.1" cy="44.6" r="1.7" fill="#b4706a" opacity="0.68"/>
<circle cx="90.6" cy="11.6" r="1.1" fill="#a4605c" opacity="0.5599999999999999"/>
<circle cx="2.9" cy="65.6" r="1.5" fill="#a4605c" opacity="0.5599999999999999"/>
<circle cx="41.2" cy="19.0" r="1.8" fill="#a4605c" opacity="0.5599999999999999"/>
<circle cx="18.9" cy="13.2" r="1.5" fill="#a4605c" opacity="0.5599999999999999"/>
<circle cx="40.2" cy="51.4" r="2.4" fill="#b4706a" opacity="0.68"/>
<circle cx="46.0" cy="17.9" r="1.1" fill="#a4605c" opacity="0.5599999999999999"/>
<circle cx="21.4" cy="39.8" r="2.5" fill="#b4706a" opacity="0.68"/>
<circle cx="24.5" cy="23.8" r="1.8" fill="#a4605c" opacity="0.5599999999999999"/>
<circle cx="68.1" cy="14.2" r="1.6" fill="#a4605c" opacity="0.5599999999999999"/>
<circle cx="56.6" cy="43.2" r="1.8" fill="#b4706a" opacity="0.68"/>
<circle cx="30.6" cy="20.3" r="1.6" fill="#a4605c" opacity="0.5599999999999999"/>
<circle cx="33.1" cy="50.1" r="1.8" fill="#b4706a" opacity="0.68"/>
<circle cx="51.2" cy="5.2" r="1.6" fill="#a4605c" opacity="0.5599999999999999"/>
<circle cx="53.2" cy="37.6" r="2.1" fill="#b4706a" opacity="0.68"/>
<circle cx="13.6" cy="36.2" r="1.3" fill="#a4605c" opacity="0.5599999999999999"/>
<circle cx="61.8" cy="15.9" r="1.5" fill="#a4605c" opacity="0.5599999999999999"/>
<circle cx="10.7" cy="56.1" r="1.4" fill="#a4605c" opacity="0.5599999999999999"/>
<circle cx="17.2" cy="18.5" r="1.7" fill="#a4605c" opacity="0.5599999999999999"/>
<circle cx="102.3" cy="18.2" r="2.1" fill="#a4605c" opacity="0.68"/>
<circle cx="106.5" cy="17.0" r="1.3" fill="#a4605c" opacity="0.5599999999999999"/>
<circle cx="25.2" cy="19.0" r="1.2" fill="#a4605c" opacity="0.5599999999999999"/>
<circle cx="3.2" cy="69.8" r="1.5" fill="#a4605c" opacity="0.5599999999999999"/>
<circle cx="80.5" cy="12.0" r="1.1" fill="#a4605c" opacity="0.5599999999999999"/>
<circle cx="55.6" cy="27.4" r="1.6" fill="#b4706a" opacity="0.68"/>
<circle cx="76.1" cy="16.9" r="1.3" fill="#a4605c" opacity="0.5599999999999999"/>
<circle cx="7.3" cy="56.0" r="1.5" fill="#a4605c" opacity="0.5599999999999999"/>
<circle cx="34.6" cy="39.1" r="1.7" fill="#b4706a" opacity="0.68"/>
<circle cx="87.4" cy="18.9" r="2.2" fill="#a4605c" opacity="0.68"/>
<circle cx="85.2" cy="11.4" r="1.3" fill="#a4605c" opacity="0.5599999999999999"/>
<circle cx="92.2" cy="14.2" r="1.2" fill="#a4605c" opacity="0.5599999999999999"/>
<circle cx="21.6" cy="17.0" r="1.7" fill="#a4605c" opacity="0.5599999999999999"/>
<circle cx="7.6" cy="59.8" r="1.0" fill="#a4605c" opacity="0.5599999999999999"/>
<circle cx="15.8" cy="7.4" r="1.3" fill="#a4605c" opacity="0.5599999999999999"/>
<circle cx="29.7" cy="5.1" r="1.3" fill="#a4605c" opacity="0.5599999999999999"/>
<circle cx="53.2" cy="31.6" r="1.8" fill="#b4706a" opacity="0.68"/>
<circle cx="4.4" cy="38.2" r="1.8" fill="#a4605c" opacity="0.5599999999999999"/>
<circle cx="86.8" cy="29.7" r="1.7" fill="#a4605c" opacity="0.68"/>
<circle cx="11.5" cy="42.7" r="1.9" fill="#a4605c" opacity="0.5599999999999999"/>
<circle cx="90.9" cy="17.1" r="1.7" fill="#a4605c" opacity="0.68"/>
<circle cx="32.1" cy="6.8" r="1.4" fill="#a4605c" opacity="0.5599999999999999"/>
<circle cx="29.4" cy="27.5" r="1.7" fill="#a4605c" opacity="0.5599999999999999"/>
<circle cx="62.0" cy="35.0" r="1.7" fill="#b4706a" opacity="0.68"/>
<circle cx="40.9" cy="33.3" r="2.1" fill="#b4706a" opacity="0.68"/>
<circle cx="78.3" cy="13.8" r="1.5" fill="#a4605c" opacity="0.5599999999999999"/>
<circle cx="77.0" cy="31.3" r="2.5" fill="#a4605c" opacity="0.68"/>
<circle cx="23.6" cy="60.9" r="1.5" fill="#b4706a" opacity="0.68"/>
<circle cx="13.3" cy="54.2" r="1.2" fill="#a4605c" opacity="0.5599999999999999"/>
<circle cx="29.1" cy="33.6" r="1.9" fill="#b4706a" opacity="0.68"/>
<circle cx="15.5" cy="21.1" r="1.5" fill="#a4605c" opacity="0.5599999999999999"/>
<circle cx="49.4" cy="13.8" r="1.1" fill="#a4605c" opacity="0.5599999999999999"/>
<circle cx="2.7" cy="52.7" r="1.7" fill="#a4605c" opacity="0.5599999999999999"/>
<circle cx="15.4" cy="29.8" r="1.1" fill="#a4605c" opacity="0.5599999999999999"/>
<circle cx="56.5" cy="19.5" r="1.3" fill="#a4605c" opacity="0.5599999999999999"/>
<circle cx="23.1" cy="27.0" r="1.1" fill="#a4605c" opacity="0.5599999999999999"/>
<circle cx="28.7" cy="47.7" r="1.8" fill="#b4706a" opacity="0.68"/>
<circle cx="96.7" cy="25.0" r="1.9" fill="#a4605c" opacity="0.68"/>
<circle cx="86.8" cy="14.5" r="1.5" fill="#a4605c" opacity="0.5599999999999999"/>
<circle cx="36.7" cy="7.7" r="1.2" fill="#a4605c" opacity="0.5599999999999999"/>
<circle cx="49.5" cy="10.2" r="1.8" fill="#a4605c" opacity="0.5599999999999999"/>
<circle cx="14.3" cy="15.9" r="1.8" fill="#c89888" opacity="0.76"/>
<circle cx="83.5" cy="16.1" r="1.5" fill="#a4605c" opacity="0.5599999999999999"/>
<circle cx="52.0" cy="24.3" r="1.3" fill="#a4605c" opacity="0.5599999999999999"/>
<circle cx="43.5" cy="5.1" r="1.6" fill="#a4605c" opacity="0.5599999999999999"/>
<circle cx="56.2" cy="14.0" r="1.3" fill="#a4605c" opacity="0.5599999999999999"/>
<circle cx="61.9" cy="42.7" r="2.0" fill="#b4706a" opacity="0.68"/>
<circle cx="75.0" cy="9.1" r="1.1" fill="#a4605c" opacity="0.5599999999999999"/>
<circle cx="41.3" cy="23.3" r="1.8" fill="#a4605c" opacity="0.5599999999999999"/>
<circle cx="39.6" cy="26.4" r="1.1" fill="#a4605c" opacity="0.5599999999999999"/>
<circle cx="36.4" cy="42.2" r="2.1" fill="#b4706a" opacity="0.68"/>
<circle cx="4.9" cy="33.1" r="1.6" fill="#a4605c" opacity="0.5599999999999999"/>
<circle cx="60.2" cy="10.1" r="1.6" fill="#a4605c" opacity="0.5599999999999999"/>
<circle cx="31.6" cy="13.6" r="1.8" fill="#a4605c" opacity="0.5599999999999999"/>
<circle cx="24.2" cy="47.1" r="2.0" fill="#b4706a" opacity="0.68"/>
<circle cx="3.1" cy="61.2" r="1.0" fill="#a4605c" opacity="0.5599999999999999"/>
<circle cx="83.0" cy="13.1" r="1.4" fill="#a4605c" opacity="0.5599999999999999"/>
<circle cx="20.8" cy="31.7" r="1.5" fill="#a4605c" opacity="0.5599999999999999"/>
<circle cx="96.9" cy="16.7" r="2.4" fill="#a4605c" opacity="0.68"/>
<circle cx="22.3" cy="21.7" r="1.1" fill="#a4605c" opacity="0.5599999999999999"/>
<circle cx="86.3" cy="24.9" r="2.5" fill="#a4605c" opacity="0.68"/>
<circle cx="33.1" cy="10.8" r="1.5" fill="#a4605c" opacity="0.5599999999999999"/>
<circle cx="36.3" cy="33.5" r="2.0" fill="#b4706a" opacity="0.68"/>
<circle cx="63.7" cy="8.4" r="1.6" fill="#a4605c" opacity="0.5599999999999999"/>
<circle cx="33.2" cy="29.9" r="1.4" fill="#a4605c" opacity="0.5599999999999999"/>
<circle cx="66.6" cy="40.9" r="1.5" fill="#b4706a" opacity="0.68"/>
<circle cx="74.5" cy="13.4" r="1.5" fill="#a4605c" opacity="0.5599999999999999"/>
<circle cx="48.6" cy="18.5" r="1.3" fill="#a4605c" opacity="0.5599999999999999"/>
<circle cx="15.0" cy="24.3" r="1.0" fill="#a4605c" opacity="0.5599999999999999"/>
<circle cx="59.5" cy="25.8" r="1.6" fill="#b4706a" opacity="0.68"/>
<circle cx="36.0" cy="25.6" r="1.1" fill="#a4605c" opacity="0.5599999999999999"/>
<circle cx="38.5" cy="4.5" r="1.8" fill="#a4605c" opacity="0.5599999999999999"/>
<circle cx="28.8" cy="1.5" r="1.0" fill="#a4605c" opacity="0.5599999999999999"/>
<circle cx="41.2" cy="47.7" r="1.8" fill="#b4706a" opacity="0.68"/>
<circle cx="93.4" cy="11.4" r="1.5" fill="#a4605c" opacity="0.5599999999999999"/>
<circle cx="51.5" cy="18.5" r="1.2" fill="#a4605c" opacity="0.5599999999999999"/>
<circle cx="29.0" cy="23.5" r="1.5" fill="#a4605c" opacity="0.5599999999999999"/>
<circle cx="23.8" cy="30.0" r="1.3" fill="#a4605c" opacity="0.5599999999999999"/>
<circle cx="43.7" cy="14.2" r="1.4" fill="#a4605c" opacity="0.5599999999999999"/>
<circle cx="7.8" cy="52.0" r="1.7" fill="#c89888" opacity="0.76"/>
<circle cx="15.8" cy="11.6" r="1.6" fill="#a4605c" opacity="0.5599999999999999"/>
<circle cx="52.5" cy="8.4" r="1.0" fill="#a4605c" opacity="0.5599999999999999"/>
<circle cx="87.7" cy="9.9" r="1.0" fill="#a4605c" opacity="0.5599999999999999"/>
<circle cx="55.8" cy="5.4" r="1.4" fill="#a4605c" opacity="0.5599999999999999"/>
<circle cx="48.0" cy="26.8" r="1.6" fill="#a4605c" opacity="0.5599999999999999"/>
<circle cx="13.4" cy="65.2" r="1.2" fill="#a4605c" opacity="0.5599999999999999"/>
<circle cx="30.4" cy="53.7" r="1.6" fill="#b4706a" opacity="0.68"/>
<circle cx="5.9" cy="67.3" r="1.3" fill="#a4605c" opacity="0.5599999999999999"/>
<circle cx="11.7" cy="37.7" r="1.2" fill="#a4605c" opacity="0.5599999999999999"/>
<circle cx="93.9" cy="22.6" r="1.6" fill="#a4605c" opacity="0.68"/>
<circle cx="28.5" cy="15.8" r="1.0" fill="#a4605c" opacity="0.5599999999999999"/>
<circle cx="75.0" cy="36.2" r="1.6" fill="#b4706a" opacity="0.68"/>
<circle cx="69.5" cy="9.7" r="1.5" fill="#a4605c" opacity="0.5599999999999999"/>
<path d="M15.7,37.2C17.3,38.0 13.8,42.4 13.6,45.3C13.4,48.3 13.5,51.7 14.5,54.7C15.6,57.6 20.7,60.6 19.8,63.0C18.8,65.4 11.7,67.7 8.7,69.2C5.7,70.7 3.4,73.0 1.7,72.1C0.1,71.2 -1.0,67.2 -1.2,64.0C-1.4,60.7 -0.3,56.2 0.6,52.3C1.5,48.4 1.6,43.2 4.1,40.7C6.6,38.2 14.1,36.4 15.7,37.2Z" fill="#380e0e" opacity="0.35" filter="url(#b1)"/>
<ellipse cx="27.3" cy="44.8" rx="13" ry="5.5" fill="#380e0e" opacity="0.85" filter="url(#b2)" transform="rotate(-12 27.3 44.8)"/>
<path d="M15.7,37.2C17.1,36.6 20.9,34.7 23.8,33.7C26.7,32.8 30.4,32.4 33.1,31.4C35.9,30.4 37.6,28.7 40.1,27.9C42.6,27.1 45.5,27.5 48.3,26.7C51.0,26.0 53.5,24.1 56.4,23.3C59.3,22.4 62.6,22.2 65.7,21.5C68.8,20.8 71.9,19.9 75.0,19.2C78.1,18.5 81.2,18.1 84.3,17.4C87.4,16.8 90.7,15.4 93.6,15.1C96.5,14.8 99.0,15.0 101.7,15.7C104.5,16.4 108.5,18.6 109.9,19.2" fill="none" stroke="#380e0e" stroke-width="2.4" opacity="0.8" filter="url(#b1)" transform="translate(0,1.6)"/>
<ellipse cx="61.6" cy="42.1" rx="4.5" ry="1.8" fill="#4a1412" transform="rotate(-20 61.6 42.1)"/>
</g>
<path d="M2.3,70.9C0.9,70.2 0.2,67.1 0.0,64.0C-0.2,60.9 0.5,56.6 1.2,52.3C1.8,48.1 3.2,43.0 4.1,38.4C4.9,33.7 5.4,28.5 6.4,24.4C7.4,20.3 8.1,17.1 9.9,14.0C11.6,10.9 14.1,7.9 16.9,5.8C19.6,3.7 23.3,2.1 26.2,1.2C29.1,0.2 31.6,-0.1 34.3,0.0C37.0,0.1 39.9,0.9 42.4,1.7C45.0,2.6 46.9,4.7 49.4,5.2C51.9,5.7 54.5,4.7 57.6,4.7C60.7,4.7 65.1,4.8 68.0,5.2C70.9,5.6 72.9,6.3 75.0,7.0C77.1,7.7 78.5,9.0 80.8,9.3C83.1,9.6 86.0,8.3 89.0,8.7C91.9,9.1 95.5,10.6 98.3,11.6C101.0,12.7 103.3,13.9 105.2,15.1C107.2,16.4 109.9,18.0 109.9,19.2C109.9,20.3 107.6,21.0 105.2,22.1C102.9,23.2 99.0,24.2 95.9,25.6C92.8,26.9 89.7,28.7 86.6,30.2C83.5,31.8 80.4,33.1 77.3,34.9C74.2,36.6 70.3,39.3 68.0,40.7C65.7,42.1 65.3,42.4 63.4,43.0C61.4,43.6 58.7,43.4 56.4,44.2C54.1,45.0 51.4,46.3 49.4,47.7C47.5,49.0 46.7,50.8 44.8,52.3C42.8,53.9 40.5,55.6 37.8,57.0C35.1,58.3 32.0,59.3 28.5,60.5C25.0,61.6 20.2,62.6 16.9,64.0C13.6,65.3 11.1,67.4 8.7,68.6C6.3,69.8 3.8,71.7 2.3,70.9Z" fill="none" stroke="#561816" stroke-width="1.4400000000000002" stroke-linejoin="round" opacity="0.9" filter="url(#rough)"/>
</g>
<circle cx="789.1" cy="347.7" r="18" fill="#9f5f4a" stroke="#6e3026" stroke-width="0.7"/>
<path d="M789.1,329.7A18,18 0 0 1 789.1,365.7Z" fill="#c29a88"/>
<circle cx="787.2" cy="361.7" r="0.8" fill="#b87860" opacity="0.6"/>
<circle cx="793.4" cy="356.5" r="1.0" fill="#d8b8a8" opacity="0.6"/>
<circle cx="802.8" cy="341.2" r="1.2" fill="#d8b8a8" opacity="0.6"/>
<circle cx="780.9" cy="354.1" r="1.0" fill="#b87860" opacity="0.6"/>
<circle cx="776.0" cy="342.6" r="0.9" fill="#b87860" opacity="0.6"/>
<circle cx="779.0" cy="349.4" r="1.5" fill="#b87860" opacity="0.6"/>
<circle cx="801.5" cy="351.8" r="1.2" fill="#d8b8a8" opacity="0.6"/>
<circle cx="791.9" cy="338.0" r="0.9" fill="#d8b8a8" opacity="0.6"/>
<circle cx="779.0" cy="337.0" r="1.0" fill="#b87860" opacity="0.6"/>
<circle cx="787.7" cy="336.9" r="0.8" fill="#b87860" opacity="0.6"/>
<circle cx="799.6" cy="340.6" r="1.5" fill="#d8b8a8" opacity="0.6"/>
<circle cx="801.7" cy="347.6" r="1.4" fill="#d8b8a8" opacity="0.6"/>
<circle cx="802.4" cy="349.4" r="0.9" fill="#d8b8a8" opacity="0.6"/>
<circle cx="795.4" cy="338.3" r="0.8" fill="#d8b8a8" opacity="0.6"/>
<circle cx="800.4" cy="342.8" r="1.3" fill="#d8b8a8" opacity="0.6"/>
<circle cx="778.7" cy="340.5" r="1.1" fill="#b87860" opacity="0.6"/>
<circle cx="779.6" cy="352.5" r="1.0" fill="#b87860" opacity="0.6"/>
<circle cx="780.2" cy="341.8" r="1.0" fill="#b87860" opacity="0.6"/>
<circle cx="794.4" cy="356.3" r="1.5" fill="#d8b8a8" opacity="0.6"/>
<circle cx="795.4" cy="357.6" r="1.4" fill="#d8b8a8" opacity="0.6"/>
<circle cx="778.6" cy="337.2" r="0.9" fill="#b87860" opacity="0.6"/>
<circle cx="786.9" cy="338.1" r="1.2" fill="#b87860" opacity="0.6"/>
<circle cx="781.8" cy="337.8" r="0.9" fill="#b87860" opacity="0.6"/>
<circle cx="791.8" cy="336.9" r="1.0" fill="#d8b8a8" opacity="0.6"/>
<circle cx="777.0" cy="340.8" r="1.3" fill="#b87860" opacity="0.6"/>
<circle cx="783.3" cy="360.1" r="1.5" fill="#b87860" opacity="0.6"/>
<path d="M782.1,349.2C781.6,343.7 787.1,339.7 789.1,340.7L789.1,354.7C785.1,355.7 782.1,353.7 782.1,349.2Z" fill="#82241a"/>
<path d="M789.1,340.7C793.1,340.7 797.1,344.7 796.1,349.7C796.1,354.2 791.6,355.2 789.1,354.7Z" fill="#a4523a"/>
<g id="logo">
<g stroke="#5f93a3" stroke-width="0.5" fill="none"><path d="M118,687.4L127.2,692L137.7,696.6L147.1,698.5M137.7,696.6L142.3,703.5"/></g>
<circle cx="118" cy="687.4" r="2" fill="#7fb8c2"/>
<circle cx="127.2" cy="692" r="5.6" fill="#7cc4b0"/>
<circle cx="137.7" cy="696.6" r="3.2" fill="#4aaaa4"/>
<circle cx="147.1" cy="698.5" r="2.3" fill="#2a9ac2"/>
<circle cx="142.3" cy="703.5" r="1.2" fill="#6aa8c6"/>
</g>
</svg>
<div class="t" id="title" style="left:53.73px;top:53.20px;font-size:29.3px;color:#44546a;font-weight:bold;transform:scaleX(1.0579)">MASH: A Burgeoning Epidemic</div>
<div class="t" id="sub" style="left:53.71px;top:139.83px;font-size:24.3px;color:#1b8fa8;font-weight:bold;transform:scaleX(1.0436)">Estimated Patients in 2030</div>
<div class="t" id="sup" style="left:375.00px;top:143.43px;font-size:15.8px;color:#1b8fa8;font-weight:bold;transform:scaleX(0.9488)">1</div>
<div class="t r" id="us" style="left:53.57px;top:170.80px;font-size:13px;color:#1a1a1a;transform:scaleX(1.0829)">United States</div>
<div class="t" id="n1" style="left:53.83px;top:193.96px;font-size:18px;color:#262d70;font-weight:bold;transform:scaleX(1.1448)">100.9 million</div>
<div class="t" id="n2" style="left:236.25px;top:192.96px;font-size:18px;color:#262d70;font-weight:bold;transform:scaleX(1.1480)">27.0 million</div>
<div class="t" id="n3" style="left:413.04px;top:193.06px;font-size:18px;color:#262d70;font-weight:bold;transform:scaleX(1.1460)">10.6 million</div>
<div class="t" id="n4" style="left:565.23px;top:193.06px;font-size:18px;color:#262d70;font-weight:bold;transform:scaleX(1.1509)">3.5 million</div>
<div class="t" id="n5" style="left:749.28px;top:192.96px;font-size:18px;color:#262d70;font-weight:bold;transform:scaleX(1.1270)">25 thousand</div>
<div class="t r" id="c1" style="left:566.07px;top:217.80px;font-size:13px;color:#1a1a1a;transform:scaleX(1.0961)">compensated and</div>
<div class="t r" id="c2" style="left:565.88px;top:234.80px;font-size:13px;color:#1a1a1a;transform:scaleX(1.1243)">decompensated</div>
<div class="t r" id="a1" style="left:748.98px;top:217.70px;font-size:13px;color:#1a1a1a;transform:scaleX(1.0737)">annual cases among</div>
<div class="t r" id="a2" style="left:748.80px;top:235.20px;font-size:13px;color:#1a1a1a;transform:scaleX(1.0868)">MASLD population</div>
<div class="t" id="l1" style="left:53.24px;top:462.66px;font-size:18.6px;color:#262d70;font-weight:bold;transform:scaleX(1.0462)">MASLD</div>
<div class="t r" id="l1a" style="left:53.18px;top:487.66px;font-size:12.8px;color:#1a1a1a;transform:scaleX(1.1111)">Metabolic</div>
<div class="t r" id="l1b" style="left:53.20px;top:505.66px;font-size:12.8px;color:#1a1a1a;transform:scaleX(1.1014)">Dysfunction-</div>
<div class="t r" id="l1c" style="left:54.02px;top:523.56px;font-size:12.8px;color:#1a1a1a;transform:scaleX(1.0374)">Associated Liver</div>
<div class="t r" id="l1d" style="left:53.27px;top:541.16px;font-size:12.8px;color:#1a1a1a;transform:scaleX(1.0726)">Disease</div>
<div class="t" id="l2" style="left:234.72px;top:462.66px;font-size:18.6px;color:#262d70;font-weight:bold;transform:scaleX(1.0762)">MASH</div>
<div class="t r" id="l2a" style="left:234.78px;top:487.66px;font-size:12.8px;color:#1a1a1a;transform:scaleX(1.1117)">Metabolic</div>
<div class="t r" id="l2b" style="left:234.81px;top:505.66px;font-size:12.8px;color:#1a1a1a;transform:scaleX(1.0992)">Dysfunction-</div>
<div class="t r" id="l2c" style="left:235.61px;top:523.56px;font-size:12.8px;color:#1a1a1a;transform:scaleX(1.0712)">Associated</div>
<div class="t r" id="l2d" style="left:234.99px;top:541.16px;font-size:12.8px;color:#1a1a1a;transform:scaleX(1.0907)">Steatohepatitis</div>
<div class="t" id="l3" style="left:410.73px;top:462.66px;font-size:18.6px;color:#262d70;font-weight:bold;transform:scaleX(1.0707)">MASH</div>
<div class="t" id="l3a" style="left:410.21px;top:488.86px;font-size:18.6px;color:#262d70;font-weight:bold;transform:scaleX(1.0610)">mod-adv</div>
<div class="t" id="l3b" style="left:410.76px;top:514.66px;font-size:18.6px;color:#262d70;font-weight:bold;transform:scaleX(1.0652)">Fibrosis</div>
<div class="t" id="l3c" style="left:492.80px;top:519.06px;font-size:13.4px;color:#111;font-weight:bold;transform:scaleX(1.0816)">F2-F3</div>
<div class="t" id="l4" style="left:570.69px;top:463.66px;font-size:18.6px;color:#262d70;font-weight:bold;transform:scaleX(1.0865)">MASH</div>
<div class="t" id="l4a" style="left:571.20px;top:489.56px;font-size:18.6px;color:#262d70;font-weight:bold;transform:scaleX(1.0908)">Cirrhosis</div>
<div class="t" id="l4b" style="left:663.60px;top:493.96px;font-size:13.4px;color:#111;font-weight:bold;transform:scaleX(1.0720)">F4</div>
<div class="t" id="l5" style="left:740.57px;top:462.66px;font-size:18.6px;color:#262d70;font-weight:bold;transform:scaleX(1.1178)">Hepatocellular</div>
<div class="t" id="l5a" style="left:743.08px;top:488.86px;font-size:18.6px;color:#262d70;font-weight:bold;transform:scaleX(1.1074)">carcinoma</div>
<div class="t" id="mash" style="left:950.91px;top:190.60px;font-size:21.5px;color:#5b97b1;font-weight:bold;transform:scaleX(1.0697)">MASH</div>
<div class="t r" id="bu1" style="left:951.17px;top:227.72px;font-size:18.4px;color:#111;transform:scaleX(0.9762)">&bull;</div>
<div class="t r" id="bu2" style="left:951.17px;top:318.92px;font-size:18.4px;color:#111;transform:scaleX(0.9762)">&bull;</div>
<div class="t r" id="b1" style="left:980.73px;top:226.72px;font-size:19px;color:#111;transform:scaleX(1.1063)">Complex disease with</div>
<div class="t r" id="b2" style="left:980.93px;top:255.12px;font-size:19px;color:#111;transform:scaleX(1.1070)">heterogeneous patient</div>
<div class="t r" id="b3" style="left:980.96px;top:283.42px;font-size:19px;color:#111;transform:scaleX(1.1496)">population</div>
<div class="t r" id="b4" style="left:981.00px;top:317.82px;font-size:19px;color:#111;transform:scaleX(1.1304)">Significant opportunity for</div>
<div class="t r" id="b5" style="left:981.00px;top:346.22px;font-size:19px;color:#111;transform:scaleX(1.1084)">differentiated MOA</div>
<div class="t r" id="nt1" style="left:52.73px;top:633.60px;font-size:12.4px;color:#111;transform:scaleX(1.0699)">Note: MASH, or metabolic dysfunction-associated steatohepatitis, was formerly known as NASH, or nonalcoholic steatohepatitis.</div>
<div class="t r" id="nt2" style="left:52.80px;top:651.40px;font-size:12.4px;color:#111;transform:scaleX(1.0318)">1. Estes C, et al. <i>J Hepatol.</i> 2018;69(4):896-904.</div>
<div class="t r" id="lg1" style="left:50.91px;top:698.19px;font-size:16.2px;color:#e4e7ec;transform:scaleX(0.9826)"><span style="letter-spacing:1.6px">SAGIMET</span></div>
<div class="t" id="lg2" style="left:74.69px;top:715.25px;font-size:6.2px;color:#c9ced6;font-weight:bold;transform:scaleX(1.0477)"><span style="letter-spacing:0.3px">BIOSCIENCES</span></div>
<div class="t r" id="date" style="left:1120.72px;top:696.60px;font-size:13px;color:#fff;transform:scaleX(1.0269)">March 2026</div>
<div class="t r" id="pg" style="left:1240.98px;top:696.60px;font-size:13px;color:#fff;transform:scaleX(1.0104)">7</div>
</body></html>
